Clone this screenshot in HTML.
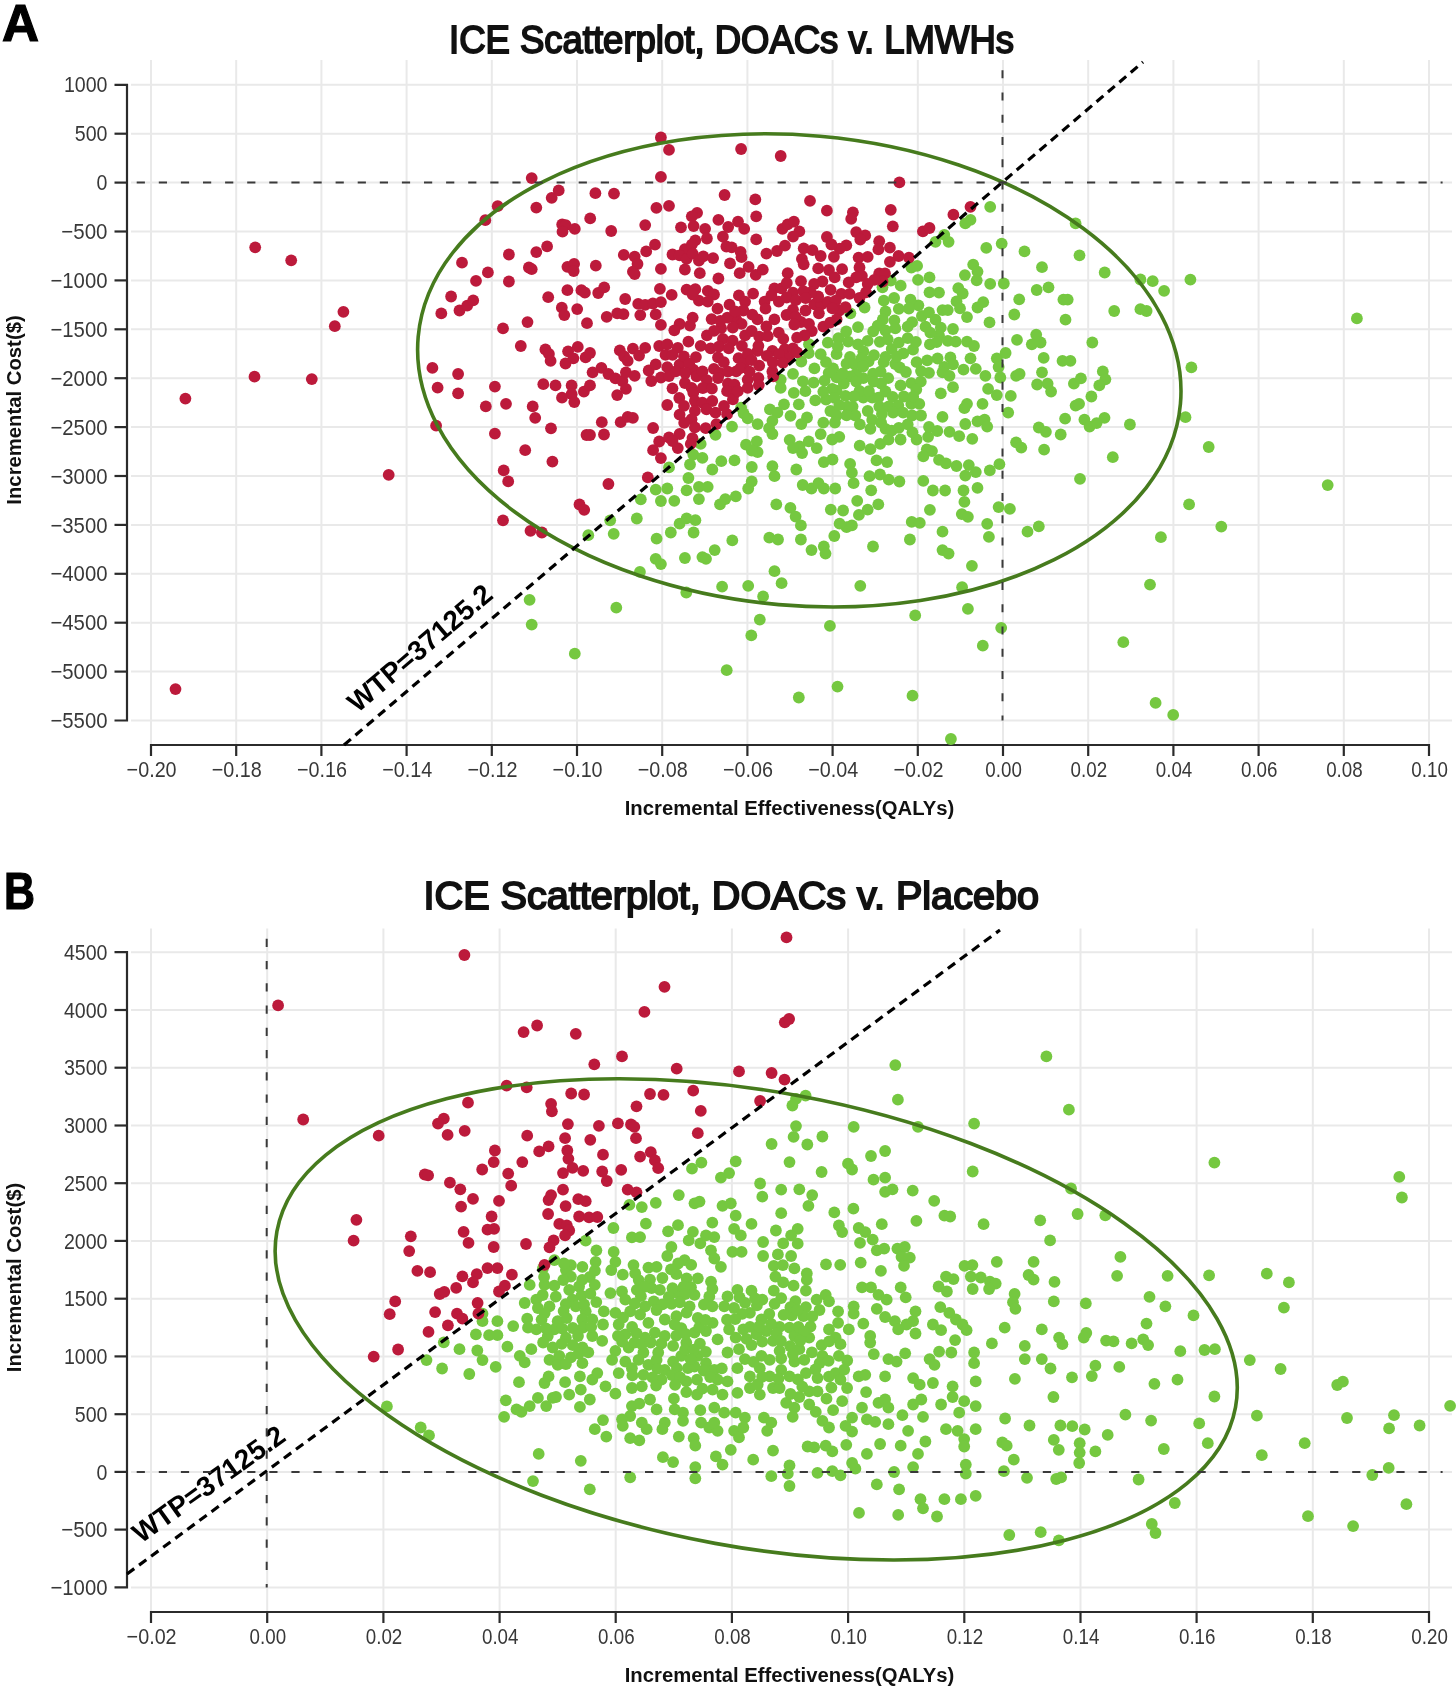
<!DOCTYPE html><html><head><meta charset="utf-8"><style>html,body{margin:0;padding:0;background:#fff}svg{display:block;filter:blur(0.5px)}</style></head><body><svg width="1456" height="1689" viewBox="0 0 1456 1689">
<style>.tk{font-family:"Liberation Sans",sans-serif;font-size:20px;fill:#383838}.ttl{font-family:"Liberation Sans",sans-serif;font-size:39px;font-weight:normal;fill:#111;stroke:#111;stroke-width:1.9px}.let{font-family:"Liberation Sans",sans-serif;font-size:52px;font-weight:bold;fill:#000;stroke:#000;stroke-width:1.2px}.ax{font-family:"Liberation Sans",sans-serif;font-size:20.3px;font-weight:bold;fill:#111}.wtp{font-family:"Liberation Sans",sans-serif;font-size:28px;font-weight:bold;fill:#000}</style>
<rect width="100%" height="100%" fill="#fff"/>
<line x1="151.0" y1="60" x2="151.0" y2="745" stroke="#e9e9e9" stroke-width="2"/>
<line x1="236.2" y1="60" x2="236.2" y2="745" stroke="#e9e9e9" stroke-width="2"/>
<line x1="321.4" y1="60" x2="321.4" y2="745" stroke="#e9e9e9" stroke-width="2"/>
<line x1="406.6" y1="60" x2="406.6" y2="745" stroke="#e9e9e9" stroke-width="2"/>
<line x1="491.8" y1="60" x2="491.8" y2="745" stroke="#e9e9e9" stroke-width="2"/>
<line x1="577.0" y1="60" x2="577.0" y2="745" stroke="#e9e9e9" stroke-width="2"/>
<line x1="662.2" y1="60" x2="662.2" y2="745" stroke="#e9e9e9" stroke-width="2"/>
<line x1="747.4" y1="60" x2="747.4" y2="745" stroke="#e9e9e9" stroke-width="2"/>
<line x1="832.6" y1="60" x2="832.6" y2="745" stroke="#e9e9e9" stroke-width="2"/>
<line x1="917.8" y1="60" x2="917.8" y2="745" stroke="#e9e9e9" stroke-width="2"/>
<line x1="1003.0" y1="60" x2="1003.0" y2="745" stroke="#e9e9e9" stroke-width="2"/>
<line x1="1088.2" y1="60" x2="1088.2" y2="745" stroke="#e9e9e9" stroke-width="2"/>
<line x1="1173.4" y1="60" x2="1173.4" y2="745" stroke="#e9e9e9" stroke-width="2"/>
<line x1="1258.6" y1="60" x2="1258.6" y2="745" stroke="#e9e9e9" stroke-width="2"/>
<line x1="1343.8" y1="60" x2="1343.8" y2="745" stroke="#e9e9e9" stroke-width="2"/>
<line x1="1429.0" y1="60" x2="1429.0" y2="745" stroke="#e9e9e9" stroke-width="2"/>
<line x1="131" y1="84.8" x2="1452" y2="84.8" stroke="#e9e9e9" stroke-width="2"/>
<line x1="131" y1="133.7" x2="1452" y2="133.7" stroke="#e9e9e9" stroke-width="2"/>
<line x1="131" y1="182.6" x2="1452" y2="182.6" stroke="#e9e9e9" stroke-width="2"/>
<line x1="131" y1="231.5" x2="1452" y2="231.5" stroke="#e9e9e9" stroke-width="2"/>
<line x1="131" y1="280.4" x2="1452" y2="280.4" stroke="#e9e9e9" stroke-width="2"/>
<line x1="131" y1="329.3" x2="1452" y2="329.3" stroke="#e9e9e9" stroke-width="2"/>
<line x1="131" y1="378.2" x2="1452" y2="378.2" stroke="#e9e9e9" stroke-width="2"/>
<line x1="131" y1="427.1" x2="1452" y2="427.1" stroke="#e9e9e9" stroke-width="2"/>
<line x1="131" y1="476.0" x2="1452" y2="476.0" stroke="#e9e9e9" stroke-width="2"/>
<line x1="131" y1="524.9" x2="1452" y2="524.9" stroke="#e9e9e9" stroke-width="2"/>
<line x1="131" y1="573.8" x2="1452" y2="573.8" stroke="#e9e9e9" stroke-width="2"/>
<line x1="131" y1="622.7" x2="1452" y2="622.7" stroke="#e9e9e9" stroke-width="2"/>
<line x1="131" y1="671.6" x2="1452" y2="671.6" stroke="#e9e9e9" stroke-width="2"/>
<line x1="131" y1="720.5" x2="1452" y2="720.5" stroke="#e9e9e9" stroke-width="2"/>
<path d="M114.5,84.8H127V720.5H114.5" fill="none" stroke="#2b2b2b" stroke-width="2.2"/>
<line x1="114.5" y1="133.7" x2="127" y2="133.7" stroke="#2b2b2b" stroke-width="2.2"/>
<line x1="114.5" y1="182.6" x2="127" y2="182.6" stroke="#2b2b2b" stroke-width="2.2"/>
<line x1="114.5" y1="231.5" x2="127" y2="231.5" stroke="#2b2b2b" stroke-width="2.2"/>
<line x1="114.5" y1="280.4" x2="127" y2="280.4" stroke="#2b2b2b" stroke-width="2.2"/>
<line x1="114.5" y1="329.3" x2="127" y2="329.3" stroke="#2b2b2b" stroke-width="2.2"/>
<line x1="114.5" y1="378.2" x2="127" y2="378.2" stroke="#2b2b2b" stroke-width="2.2"/>
<line x1="114.5" y1="427.1" x2="127" y2="427.1" stroke="#2b2b2b" stroke-width="2.2"/>
<line x1="114.5" y1="476.0" x2="127" y2="476.0" stroke="#2b2b2b" stroke-width="2.2"/>
<line x1="114.5" y1="524.9" x2="127" y2="524.9" stroke="#2b2b2b" stroke-width="2.2"/>
<line x1="114.5" y1="573.8" x2="127" y2="573.8" stroke="#2b2b2b" stroke-width="2.2"/>
<line x1="114.5" y1="622.7" x2="127" y2="622.7" stroke="#2b2b2b" stroke-width="2.2"/>
<line x1="114.5" y1="671.6" x2="127" y2="671.6" stroke="#2b2b2b" stroke-width="2.2"/>
<path d="M151.0,756V745H1429.0V756" fill="none" stroke="#2b2b2b" stroke-width="2.2"/>
<line x1="236.2" y1="745" x2="236.2" y2="756" stroke="#2b2b2b" stroke-width="2.2"/>
<line x1="321.4" y1="745" x2="321.4" y2="756" stroke="#2b2b2b" stroke-width="2.2"/>
<line x1="406.6" y1="745" x2="406.6" y2="756" stroke="#2b2b2b" stroke-width="2.2"/>
<line x1="491.8" y1="745" x2="491.8" y2="756" stroke="#2b2b2b" stroke-width="2.2"/>
<line x1="577.0" y1="745" x2="577.0" y2="756" stroke="#2b2b2b" stroke-width="2.2"/>
<line x1="662.2" y1="745" x2="662.2" y2="756" stroke="#2b2b2b" stroke-width="2.2"/>
<line x1="747.4" y1="745" x2="747.4" y2="756" stroke="#2b2b2b" stroke-width="2.2"/>
<line x1="832.6" y1="745" x2="832.6" y2="756" stroke="#2b2b2b" stroke-width="2.2"/>
<line x1="917.8" y1="745" x2="917.8" y2="756" stroke="#2b2b2b" stroke-width="2.2"/>
<line x1="1003.0" y1="745" x2="1003.0" y2="756" stroke="#2b2b2b" stroke-width="2.2"/>
<line x1="1088.2" y1="745" x2="1088.2" y2="756" stroke="#2b2b2b" stroke-width="2.2"/>
<line x1="1173.4" y1="745" x2="1173.4" y2="756" stroke="#2b2b2b" stroke-width="2.2"/>
<line x1="1258.6" y1="745" x2="1258.6" y2="756" stroke="#2b2b2b" stroke-width="2.2"/>
<line x1="1343.8" y1="745" x2="1343.8" y2="756" stroke="#2b2b2b" stroke-width="2.2"/>
<text transform="translate(107.5,92.4) scale(1,1.1)" text-anchor="end" class="tk" textLength="43.6" lengthAdjust="spacingAndGlyphs">1000</text>
<text transform="translate(107.5,141.3) scale(1,1.1)" text-anchor="end" class="tk" textLength="32.7" lengthAdjust="spacingAndGlyphs">500</text>
<text transform="translate(107.5,190.2) scale(1,1.1)" text-anchor="end" class="tk" textLength="10.9" lengthAdjust="spacingAndGlyphs">0</text>
<text transform="translate(107.5,239.1) scale(1,1.1)" text-anchor="end" class="tk" textLength="46.2" lengthAdjust="spacingAndGlyphs">−500</text>
<text transform="translate(107.5,288.0) scale(1,1.1)" text-anchor="end" class="tk" textLength="57.1" lengthAdjust="spacingAndGlyphs">−1000</text>
<text transform="translate(107.5,336.9) scale(1,1.1)" text-anchor="end" class="tk" textLength="57.1" lengthAdjust="spacingAndGlyphs">−1500</text>
<text transform="translate(107.5,385.8) scale(1,1.1)" text-anchor="end" class="tk" textLength="57.1" lengthAdjust="spacingAndGlyphs">−2000</text>
<text transform="translate(107.5,434.7) scale(1,1.1)" text-anchor="end" class="tk" textLength="57.1" lengthAdjust="spacingAndGlyphs">−2500</text>
<text transform="translate(107.5,483.6) scale(1,1.1)" text-anchor="end" class="tk" textLength="57.1" lengthAdjust="spacingAndGlyphs">−3000</text>
<text transform="translate(107.5,532.5) scale(1,1.1)" text-anchor="end" class="tk" textLength="57.1" lengthAdjust="spacingAndGlyphs">−3500</text>
<text transform="translate(107.5,581.4) scale(1,1.1)" text-anchor="end" class="tk" textLength="57.1" lengthAdjust="spacingAndGlyphs">−4000</text>
<text transform="translate(107.5,630.3) scale(1,1.1)" text-anchor="end" class="tk" textLength="57.1" lengthAdjust="spacingAndGlyphs">−4500</text>
<text transform="translate(107.5,679.2) scale(1,1.1)" text-anchor="end" class="tk" textLength="57.1" lengthAdjust="spacingAndGlyphs">−5000</text>
<text transform="translate(107.5,728.1) scale(1,1.1)" text-anchor="end" class="tk" textLength="57.1" lengthAdjust="spacingAndGlyphs">−5500</text>
<text transform="translate(151.6,776.5) scale(1,1.1)" text-anchor="middle" class="tk" textLength="50.0" lengthAdjust="spacingAndGlyphs">−0.20</text>
<text transform="translate(236.8,776.5) scale(1,1.1)" text-anchor="middle" class="tk" textLength="50.0" lengthAdjust="spacingAndGlyphs">−0.18</text>
<text transform="translate(322.0,776.5) scale(1,1.1)" text-anchor="middle" class="tk" textLength="50.0" lengthAdjust="spacingAndGlyphs">−0.16</text>
<text transform="translate(407.2,776.5) scale(1,1.1)" text-anchor="middle" class="tk" textLength="50.0" lengthAdjust="spacingAndGlyphs">−0.14</text>
<text transform="translate(492.4,776.5) scale(1,1.1)" text-anchor="middle" class="tk" textLength="50.0" lengthAdjust="spacingAndGlyphs">−0.12</text>
<text transform="translate(577.6,776.5) scale(1,1.1)" text-anchor="middle" class="tk" textLength="50.0" lengthAdjust="spacingAndGlyphs">−0.10</text>
<text transform="translate(662.8,776.5) scale(1,1.1)" text-anchor="middle" class="tk" textLength="50.0" lengthAdjust="spacingAndGlyphs">−0.08</text>
<text transform="translate(748.0,776.5) scale(1,1.1)" text-anchor="middle" class="tk" textLength="50.0" lengthAdjust="spacingAndGlyphs">−0.06</text>
<text transform="translate(833.2,776.5) scale(1,1.1)" text-anchor="middle" class="tk" textLength="50.0" lengthAdjust="spacingAndGlyphs">−0.04</text>
<text transform="translate(918.4,776.5) scale(1,1.1)" text-anchor="middle" class="tk" textLength="50.0" lengthAdjust="spacingAndGlyphs">−0.02</text>
<text transform="translate(1003.6,776.5) scale(1,1.1)" text-anchor="middle" class="tk" textLength="36.5" lengthAdjust="spacingAndGlyphs">0.00</text>
<text transform="translate(1088.8,776.5) scale(1,1.1)" text-anchor="middle" class="tk" textLength="36.5" lengthAdjust="spacingAndGlyphs">0.02</text>
<text transform="translate(1174.0,776.5) scale(1,1.1)" text-anchor="middle" class="tk" textLength="36.5" lengthAdjust="spacingAndGlyphs">0.04</text>
<text transform="translate(1259.2,776.5) scale(1,1.1)" text-anchor="middle" class="tk" textLength="36.5" lengthAdjust="spacingAndGlyphs">0.06</text>
<text transform="translate(1344.4,776.5) scale(1,1.1)" text-anchor="middle" class="tk" textLength="36.5" lengthAdjust="spacingAndGlyphs">0.08</text>
<text transform="translate(1429.6,776.5) scale(1,1.1)" text-anchor="middle" class="tk" textLength="36.5" lengthAdjust="spacingAndGlyphs">0.10</text>
<text x="449" y="53" class="ttl" textLength="565" lengthAdjust="spacingAndGlyphs">ICE Scatterplot, DOACs v. LMWHs</text>
<text x="2" y="41.3" class="let" textLength="37" lengthAdjust="spacingAndGlyphs">A</text>
<text x="789.5" y="815" text-anchor="middle" class="ax">Incremental Effectiveness(QALYs)</text>
<text transform="translate(20.8,410) rotate(-90)" text-anchor="middle" class="ax">Incremental Cost($)</text>
<line x1="151.0" y1="928.6" x2="151.0" y2="1612" stroke="#e9e9e9" stroke-width="2"/>
<line x1="267.2" y1="928.6" x2="267.2" y2="1612" stroke="#e9e9e9" stroke-width="2"/>
<line x1="383.4" y1="928.6" x2="383.4" y2="1612" stroke="#e9e9e9" stroke-width="2"/>
<line x1="499.6" y1="928.6" x2="499.6" y2="1612" stroke="#e9e9e9" stroke-width="2"/>
<line x1="615.7" y1="928.6" x2="615.7" y2="1612" stroke="#e9e9e9" stroke-width="2"/>
<line x1="731.9" y1="928.6" x2="731.9" y2="1612" stroke="#e9e9e9" stroke-width="2"/>
<line x1="848.1" y1="928.6" x2="848.1" y2="1612" stroke="#e9e9e9" stroke-width="2"/>
<line x1="964.3" y1="928.6" x2="964.3" y2="1612" stroke="#e9e9e9" stroke-width="2"/>
<line x1="1080.5" y1="928.6" x2="1080.5" y2="1612" stroke="#e9e9e9" stroke-width="2"/>
<line x1="1196.6" y1="928.6" x2="1196.6" y2="1612" stroke="#e9e9e9" stroke-width="2"/>
<line x1="1312.8" y1="928.6" x2="1312.8" y2="1612" stroke="#e9e9e9" stroke-width="2"/>
<line x1="1429.0" y1="928.6" x2="1429.0" y2="1612" stroke="#e9e9e9" stroke-width="2"/>
<line x1="131" y1="952.2" x2="1452" y2="952.2" stroke="#e9e9e9" stroke-width="2"/>
<line x1="131" y1="1010.0" x2="1452" y2="1010.0" stroke="#e9e9e9" stroke-width="2"/>
<line x1="131" y1="1067.7" x2="1452" y2="1067.7" stroke="#e9e9e9" stroke-width="2"/>
<line x1="131" y1="1125.5" x2="1452" y2="1125.5" stroke="#e9e9e9" stroke-width="2"/>
<line x1="131" y1="1183.2" x2="1452" y2="1183.2" stroke="#e9e9e9" stroke-width="2"/>
<line x1="131" y1="1240.9" x2="1452" y2="1240.9" stroke="#e9e9e9" stroke-width="2"/>
<line x1="131" y1="1298.7" x2="1452" y2="1298.7" stroke="#e9e9e9" stroke-width="2"/>
<line x1="131" y1="1356.4" x2="1452" y2="1356.4" stroke="#e9e9e9" stroke-width="2"/>
<line x1="131" y1="1414.2" x2="1452" y2="1414.2" stroke="#e9e9e9" stroke-width="2"/>
<line x1="131" y1="1471.9" x2="1452" y2="1471.9" stroke="#e9e9e9" stroke-width="2"/>
<line x1="131" y1="1529.6" x2="1452" y2="1529.6" stroke="#e9e9e9" stroke-width="2"/>
<line x1="131" y1="1587.4" x2="1452" y2="1587.4" stroke="#e9e9e9" stroke-width="2"/>
<path d="M114.5,952.2H127V1587.4H114.5" fill="none" stroke="#2b2b2b" stroke-width="2.2"/>
<line x1="114.5" y1="1010.0" x2="127" y2="1010.0" stroke="#2b2b2b" stroke-width="2.2"/>
<line x1="114.5" y1="1067.7" x2="127" y2="1067.7" stroke="#2b2b2b" stroke-width="2.2"/>
<line x1="114.5" y1="1125.5" x2="127" y2="1125.5" stroke="#2b2b2b" stroke-width="2.2"/>
<line x1="114.5" y1="1183.2" x2="127" y2="1183.2" stroke="#2b2b2b" stroke-width="2.2"/>
<line x1="114.5" y1="1240.9" x2="127" y2="1240.9" stroke="#2b2b2b" stroke-width="2.2"/>
<line x1="114.5" y1="1298.7" x2="127" y2="1298.7" stroke="#2b2b2b" stroke-width="2.2"/>
<line x1="114.5" y1="1356.4" x2="127" y2="1356.4" stroke="#2b2b2b" stroke-width="2.2"/>
<line x1="114.5" y1="1414.2" x2="127" y2="1414.2" stroke="#2b2b2b" stroke-width="2.2"/>
<line x1="114.5" y1="1471.9" x2="127" y2="1471.9" stroke="#2b2b2b" stroke-width="2.2"/>
<line x1="114.5" y1="1529.6" x2="127" y2="1529.6" stroke="#2b2b2b" stroke-width="2.2"/>
<path d="M151.0,1623V1612H1429.0V1623" fill="none" stroke="#2b2b2b" stroke-width="2.2"/>
<line x1="267.2" y1="1612" x2="267.2" y2="1623" stroke="#2b2b2b" stroke-width="2.2"/>
<line x1="383.4" y1="1612" x2="383.4" y2="1623" stroke="#2b2b2b" stroke-width="2.2"/>
<line x1="499.6" y1="1612" x2="499.6" y2="1623" stroke="#2b2b2b" stroke-width="2.2"/>
<line x1="615.7" y1="1612" x2="615.7" y2="1623" stroke="#2b2b2b" stroke-width="2.2"/>
<line x1="731.9" y1="1612" x2="731.9" y2="1623" stroke="#2b2b2b" stroke-width="2.2"/>
<line x1="848.1" y1="1612" x2="848.1" y2="1623" stroke="#2b2b2b" stroke-width="2.2"/>
<line x1="964.3" y1="1612" x2="964.3" y2="1623" stroke="#2b2b2b" stroke-width="2.2"/>
<line x1="1080.5" y1="1612" x2="1080.5" y2="1623" stroke="#2b2b2b" stroke-width="2.2"/>
<line x1="1196.6" y1="1612" x2="1196.6" y2="1623" stroke="#2b2b2b" stroke-width="2.2"/>
<line x1="1312.8" y1="1612" x2="1312.8" y2="1623" stroke="#2b2b2b" stroke-width="2.2"/>
<text transform="translate(107.5,959.8) scale(1,1.1)" text-anchor="end" class="tk" textLength="43.6" lengthAdjust="spacingAndGlyphs">4500</text>
<text transform="translate(107.5,1017.6) scale(1,1.1)" text-anchor="end" class="tk" textLength="43.6" lengthAdjust="spacingAndGlyphs">4000</text>
<text transform="translate(107.5,1075.3) scale(1,1.1)" text-anchor="end" class="tk" textLength="43.6" lengthAdjust="spacingAndGlyphs">3500</text>
<text transform="translate(107.5,1133.1) scale(1,1.1)" text-anchor="end" class="tk" textLength="43.6" lengthAdjust="spacingAndGlyphs">3000</text>
<text transform="translate(107.5,1190.8) scale(1,1.1)" text-anchor="end" class="tk" textLength="43.6" lengthAdjust="spacingAndGlyphs">2500</text>
<text transform="translate(107.5,1248.5) scale(1,1.1)" text-anchor="end" class="tk" textLength="43.6" lengthAdjust="spacingAndGlyphs">2000</text>
<text transform="translate(107.5,1306.3) scale(1,1.1)" text-anchor="end" class="tk" textLength="43.6" lengthAdjust="spacingAndGlyphs">1500</text>
<text transform="translate(107.5,1364.0) scale(1,1.1)" text-anchor="end" class="tk" textLength="43.6" lengthAdjust="spacingAndGlyphs">1000</text>
<text transform="translate(107.5,1421.8) scale(1,1.1)" text-anchor="end" class="tk" textLength="32.7" lengthAdjust="spacingAndGlyphs">500</text>
<text transform="translate(107.5,1479.5) scale(1,1.1)" text-anchor="end" class="tk" textLength="10.9" lengthAdjust="spacingAndGlyphs">0</text>
<text transform="translate(107.5,1537.2) scale(1,1.1)" text-anchor="end" class="tk" textLength="46.2" lengthAdjust="spacingAndGlyphs">−500</text>
<text transform="translate(107.5,1595.0) scale(1,1.1)" text-anchor="end" class="tk" textLength="57.1" lengthAdjust="spacingAndGlyphs">−1000</text>
<text transform="translate(151.6,1643.5) scale(1,1.1)" text-anchor="middle" class="tk" textLength="50.0" lengthAdjust="spacingAndGlyphs">−0.02</text>
<text transform="translate(267.8,1643.5) scale(1,1.1)" text-anchor="middle" class="tk" textLength="36.5" lengthAdjust="spacingAndGlyphs">0.00</text>
<text transform="translate(384.0,1643.5) scale(1,1.1)" text-anchor="middle" class="tk" textLength="36.5" lengthAdjust="spacingAndGlyphs">0.02</text>
<text transform="translate(500.2,1643.5) scale(1,1.1)" text-anchor="middle" class="tk" textLength="36.5" lengthAdjust="spacingAndGlyphs">0.04</text>
<text transform="translate(616.3,1643.5) scale(1,1.1)" text-anchor="middle" class="tk" textLength="36.5" lengthAdjust="spacingAndGlyphs">0.06</text>
<text transform="translate(732.5,1643.5) scale(1,1.1)" text-anchor="middle" class="tk" textLength="36.5" lengthAdjust="spacingAndGlyphs">0.08</text>
<text transform="translate(848.7,1643.5) scale(1,1.1)" text-anchor="middle" class="tk" textLength="36.5" lengthAdjust="spacingAndGlyphs">0.10</text>
<text transform="translate(964.9,1643.5) scale(1,1.1)" text-anchor="middle" class="tk" textLength="36.5" lengthAdjust="spacingAndGlyphs">0.12</text>
<text transform="translate(1081.1,1643.5) scale(1,1.1)" text-anchor="middle" class="tk" textLength="36.5" lengthAdjust="spacingAndGlyphs">0.14</text>
<text transform="translate(1197.2,1643.5) scale(1,1.1)" text-anchor="middle" class="tk" textLength="36.5" lengthAdjust="spacingAndGlyphs">0.16</text>
<text transform="translate(1313.4,1643.5) scale(1,1.1)" text-anchor="middle" class="tk" textLength="36.5" lengthAdjust="spacingAndGlyphs">0.18</text>
<text transform="translate(1429.6,1643.5) scale(1,1.1)" text-anchor="middle" class="tk" textLength="36.5" lengthAdjust="spacingAndGlyphs">0.20</text>
<text x="423.6" y="908.5" class="ttl" textLength="615.4" lengthAdjust="spacingAndGlyphs">ICE Scatterplot, DOACs v. Placebo</text>
<text x="4" y="909" class="let" textLength="31" lengthAdjust="spacingAndGlyphs">B</text>
<text x="789.5" y="1682" text-anchor="middle" class="ax">Incremental Effectiveness(QALYs)</text>
<text transform="translate(20.8,1277.5) rotate(-90)" text-anchor="middle" class="ax">Incremental Cost($)</text>
<g fill="#75c840">
<circle cx="990.2" cy="206.8" r="5.9"/>
<circle cx="965.3" cy="223.4" r="5.9"/>
<circle cx="970.5" cy="219.9" r="5.9"/>
<circle cx="944.3" cy="234.8" r="5.9"/>
<circle cx="948.6" cy="241.8" r="5.9"/>
<circle cx="935.5" cy="241.8" r="5.9"/>
<circle cx="986.3" cy="247.9" r="5.9"/>
<circle cx="1001.7" cy="243.6" r="5.9"/>
<circle cx="1024.5" cy="251.4" r="5.9"/>
<circle cx="1075.6" cy="223.4" r="5.9"/>
<circle cx="1079.5" cy="255.3" r="5.9"/>
<circle cx="1042.0" cy="267.2" r="5.9"/>
<circle cx="1104.7" cy="272.5" r="5.9"/>
<circle cx="964.9" cy="275.1" r="5.9"/>
<circle cx="973.2" cy="264.6" r="5.9"/>
<circle cx="977.5" cy="271.6" r="5.9"/>
<circle cx="976.7" cy="280.3" r="5.9"/>
<circle cx="990.2" cy="283.8" r="5.9"/>
<circle cx="1003.8" cy="283.5" r="5.9"/>
<circle cx="939.0" cy="292.6" r="5.9"/>
<circle cx="958.3" cy="288.2" r="5.9"/>
<circle cx="962.7" cy="293.5" r="5.9"/>
<circle cx="956.5" cy="301.4" r="5.9"/>
<circle cx="960.0" cy="308.4" r="5.9"/>
<circle cx="977.5" cy="307.5" r="5.9"/>
<circle cx="983.2" cy="302.2" r="5.9"/>
<circle cx="942.5" cy="310.1" r="5.9"/>
<circle cx="947.8" cy="310.1" r="5.9"/>
<circle cx="967.0" cy="317.1" r="5.9"/>
<circle cx="989.5" cy="322.4" r="5.9"/>
<circle cx="1014.3" cy="314.5" r="5.9"/>
<circle cx="1019.2" cy="299.3" r="5.9"/>
<circle cx="1036.7" cy="290.0" r="5.9"/>
<circle cx="1048.5" cy="287.3" r="5.9"/>
<circle cx="1063.4" cy="299.6" r="5.9"/>
<circle cx="1067.7" cy="299.6" r="5.9"/>
<circle cx="1065.5" cy="319.7" r="5.9"/>
<circle cx="1114.2" cy="311.0" r="5.9"/>
<circle cx="1140.4" cy="279.5" r="5.9"/>
<circle cx="1152.7" cy="281.2" r="5.9"/>
<circle cx="1164.1" cy="290.8" r="5.9"/>
<circle cx="1140.4" cy="309.2" r="5.9"/>
<circle cx="1146.6" cy="311.0" r="5.9"/>
<circle cx="935.5" cy="319.7" r="5.9"/>
<circle cx="940.8" cy="327.6" r="5.9"/>
<circle cx="953.0" cy="329.0" r="5.9"/>
<circle cx="1190.4" cy="279.6" r="5.9"/>
<circle cx="1356.9" cy="318.4" r="5.9"/>
<circle cx="1191.4" cy="367.4" r="5.9"/>
<circle cx="1185.5" cy="417.2" r="5.9"/>
<circle cx="1208.7" cy="447.0" r="5.9"/>
<circle cx="1327.7" cy="485.1" r="5.9"/>
<circle cx="1189.1" cy="504.3" r="5.9"/>
<circle cx="1221.3" cy="526.6" r="5.9"/>
<circle cx="1160.9" cy="537.2" r="5.9"/>
<circle cx="1150.0" cy="584.6" r="5.9"/>
<circle cx="1155.6" cy="702.9" r="5.9"/>
<circle cx="1173.2" cy="714.9" r="5.9"/>
<circle cx="655.7" cy="489.6" r="5.9"/>
<circle cx="640.8" cy="499.3" r="5.9"/>
<circle cx="660.9" cy="501.0" r="5.9"/>
<circle cx="610.2" cy="520.3" r="5.9"/>
<circle cx="636.8" cy="518.5" r="5.9"/>
<circle cx="588.3" cy="535.2" r="5.9"/>
<circle cx="613.7" cy="533.8" r="5.9"/>
<circle cx="656.6" cy="538.7" r="5.9"/>
<circle cx="655.7" cy="558.8" r="5.9"/>
<circle cx="660.9" cy="564.1" r="5.9"/>
<circle cx="639.9" cy="571.9" r="5.9"/>
<circle cx="669.0" cy="467.4" r="5.9"/>
<circle cx="774.5" cy="476.2" r="5.9"/>
<circle cx="816.7" cy="448.1" r="5.9"/>
<circle cx="823.8" cy="462.1" r="5.9"/>
<circle cx="832.5" cy="459.5" r="5.9"/>
<circle cx="850.1" cy="463.9" r="5.9"/>
<circle cx="851.9" cy="472.7" r="5.9"/>
<circle cx="853.6" cy="483.2" r="5.9"/>
<circle cx="876.5" cy="460.4" r="5.9"/>
<circle cx="887.1" cy="462.1" r="5.9"/>
<circle cx="869.5" cy="476.2" r="5.9"/>
<circle cx="880.0" cy="474.5" r="5.9"/>
<circle cx="888.8" cy="479.7" r="5.9"/>
<circle cx="899.4" cy="481.5" r="5.9"/>
<circle cx="802.7" cy="485.0" r="5.9"/>
<circle cx="811.5" cy="488.5" r="5.9"/>
<circle cx="818.5" cy="483.2" r="5.9"/>
<circle cx="823.8" cy="488.5" r="5.9"/>
<circle cx="835.2" cy="488.5" r="5.9"/>
<circle cx="667.3" cy="488.5" r="5.9"/>
<circle cx="688.4" cy="478.0" r="5.9"/>
<circle cx="686.6" cy="490.3" r="5.9"/>
<circle cx="698.9" cy="486.8" r="5.9"/>
<circle cx="707.7" cy="486.8" r="5.9"/>
<circle cx="674.3" cy="500.8" r="5.9"/>
<circle cx="698.9" cy="499.1" r="5.9"/>
<circle cx="720.0" cy="504.3" r="5.9"/>
<circle cx="725.3" cy="499.1" r="5.9"/>
<circle cx="735.8" cy="496.4" r="5.9"/>
<circle cx="748.2" cy="488.5" r="5.9"/>
<circle cx="751.7" cy="481.5" r="5.9"/>
<circle cx="776.3" cy="504.3" r="5.9"/>
<circle cx="790.4" cy="507.9" r="5.9"/>
<circle cx="795.6" cy="516.6" r="5.9"/>
<circle cx="800.9" cy="525.4" r="5.9"/>
<circle cx="800.9" cy="539.5" r="5.9"/>
<circle cx="769.3" cy="537.7" r="5.9"/>
<circle cx="778.0" cy="539.5" r="5.9"/>
<circle cx="871.2" cy="490.3" r="5.9"/>
<circle cx="878.3" cy="504.3" r="5.9"/>
<circle cx="858.9" cy="514.9" r="5.9"/>
<circle cx="857.2" cy="500.8" r="5.9"/>
<circle cx="867.7" cy="509.6" r="5.9"/>
<circle cx="830.8" cy="509.6" r="5.9"/>
<circle cx="843.1" cy="510.5" r="5.9"/>
<circle cx="846.6" cy="527.2" r="5.9"/>
<circle cx="851.9" cy="525.4" r="5.9"/>
<circle cx="839.6" cy="523.7" r="5.9"/>
<circle cx="834.3" cy="536.0" r="5.9"/>
<circle cx="873.0" cy="546.5" r="5.9"/>
<circle cx="911.7" cy="521.9" r="5.9"/>
<circle cx="909.9" cy="539.5" r="5.9"/>
<circle cx="679.6" cy="523.7" r="5.9"/>
<circle cx="686.6" cy="518.4" r="5.9"/>
<circle cx="695.4" cy="520.2" r="5.9"/>
<circle cx="670.8" cy="532.5" r="5.9"/>
<circle cx="693.6" cy="532.5" r="5.9"/>
<circle cx="732.3" cy="540.4" r="5.9"/>
<circle cx="684.9" cy="558.0" r="5.9"/>
<circle cx="702.4" cy="557.1" r="5.9"/>
<circle cx="714.7" cy="550.1" r="5.9"/>
<circle cx="706.0" cy="558.8" r="5.9"/>
<circle cx="811.5" cy="550.1" r="5.9"/>
<circle cx="823.8" cy="546.5" r="5.9"/>
<circle cx="825.5" cy="553.6" r="5.9"/>
<circle cx="774.5" cy="571.2" r="5.9"/>
<circle cx="939.0" cy="335.5" r="5.9"/>
<circle cx="947.8" cy="340.8" r="5.9"/>
<circle cx="967.0" cy="341.6" r="5.9"/>
<circle cx="974.0" cy="346.0" r="5.9"/>
<circle cx="950.4" cy="357.4" r="5.9"/>
<circle cx="953.0" cy="364.4" r="5.9"/>
<circle cx="944.3" cy="367.0" r="5.9"/>
<circle cx="942.5" cy="372.3" r="5.9"/>
<circle cx="949.5" cy="375.8" r="5.9"/>
<circle cx="963.5" cy="369.7" r="5.9"/>
<circle cx="970.5" cy="358.3" r="5.9"/>
<circle cx="975.8" cy="368.8" r="5.9"/>
<circle cx="985.4" cy="375.8" r="5.9"/>
<circle cx="996.8" cy="358.3" r="5.9"/>
<circle cx="998.6" cy="367.0" r="5.9"/>
<circle cx="1000.3" cy="377.5" r="5.9"/>
<circle cx="1005.6" cy="353.0" r="5.9"/>
<circle cx="953.0" cy="387.2" r="5.9"/>
<circle cx="940.8" cy="393.3" r="5.9"/>
<circle cx="988.1" cy="388.9" r="5.9"/>
<circle cx="996.8" cy="395.1" r="5.9"/>
<circle cx="1017.0" cy="339.9" r="5.9"/>
<circle cx="1036.2" cy="334.6" r="5.9"/>
<circle cx="1031.8" cy="344.3" r="5.9"/>
<circle cx="1040.6" cy="342.5" r="5.9"/>
<circle cx="1092.3" cy="342.5" r="5.9"/>
<circle cx="1043.7" cy="357.9" r="5.9"/>
<circle cx="1062.5" cy="360.9" r="5.9"/>
<circle cx="1070.4" cy="360.9" r="5.9"/>
<circle cx="1042.0" cy="372.3" r="5.9"/>
<circle cx="1016.1" cy="375.8" r="5.9"/>
<circle cx="1019.6" cy="374.0" r="5.9"/>
<circle cx="1037.1" cy="384.5" r="5.9"/>
<circle cx="1047.6" cy="383.7" r="5.9"/>
<circle cx="1051.1" cy="391.6" r="5.9"/>
<circle cx="1073.9" cy="383.7" r="5.9"/>
<circle cx="1080.9" cy="378.4" r="5.9"/>
<circle cx="1102.8" cy="371.4" r="5.9"/>
<circle cx="1105.4" cy="379.3" r="5.9"/>
<circle cx="1099.3" cy="385.4" r="5.9"/>
<circle cx="1091.4" cy="396.5" r="5.9"/>
<circle cx="1010.8" cy="395.9" r="5.9"/>
<circle cx="1008.2" cy="412.6" r="5.9"/>
<circle cx="967.0" cy="403.8" r="5.9"/>
<circle cx="964.4" cy="408.2" r="5.9"/>
<circle cx="982.5" cy="403.8" r="5.9"/>
<circle cx="942.5" cy="416.9" r="5.9"/>
<circle cx="965.3" cy="424.0" r="5.9"/>
<circle cx="977.5" cy="421.3" r="5.9"/>
<circle cx="984.6" cy="419.6" r="5.9"/>
<circle cx="987.2" cy="426.6" r="5.9"/>
<circle cx="937.3" cy="431.0" r="5.9"/>
<circle cx="949.5" cy="431.8" r="5.9"/>
<circle cx="959.2" cy="436.2" r="5.9"/>
<circle cx="972.3" cy="438.8" r="5.9"/>
<circle cx="926.8" cy="449.3" r="5.9"/>
<circle cx="932.0" cy="451.1" r="5.9"/>
<circle cx="923.3" cy="456.4" r="5.9"/>
<circle cx="939.0" cy="459.9" r="5.9"/>
<circle cx="946.0" cy="463.4" r="5.9"/>
<circle cx="956.5" cy="466.0" r="5.9"/>
<circle cx="968.8" cy="465.1" r="5.9"/>
<circle cx="975.8" cy="472.1" r="5.9"/>
<circle cx="965.3" cy="475.6" r="5.9"/>
<circle cx="989.8" cy="470.4" r="5.9"/>
<circle cx="999.4" cy="464.2" r="5.9"/>
<circle cx="1075.6" cy="405.6" r="5.9"/>
<circle cx="1079.1" cy="403.8" r="5.9"/>
<circle cx="1065.1" cy="418.7" r="5.9"/>
<circle cx="1084.4" cy="419.6" r="5.9"/>
<circle cx="1089.6" cy="426.6" r="5.9"/>
<circle cx="1096.6" cy="423.1" r="5.9"/>
<circle cx="1104.5" cy="417.8" r="5.9"/>
<circle cx="1129.9" cy="424.5" r="5.9"/>
<circle cx="1038.8" cy="427.5" r="5.9"/>
<circle cx="1045.9" cy="431.8" r="5.9"/>
<circle cx="1060.7" cy="434.5" r="5.9"/>
<circle cx="1016.1" cy="442.3" r="5.9"/>
<circle cx="1021.3" cy="447.6" r="5.9"/>
<circle cx="1044.1" cy="449.7" r="5.9"/>
<circle cx="1112.8" cy="457.2" r="5.9"/>
<circle cx="923.3" cy="480.9" r="5.9"/>
<circle cx="932.9" cy="490.5" r="5.9"/>
<circle cx="945.1" cy="490.5" r="5.9"/>
<circle cx="963.5" cy="490.5" r="5.9"/>
<circle cx="977.5" cy="487.9" r="5.9"/>
<circle cx="964.4" cy="501.9" r="5.9"/>
<circle cx="929.9" cy="509.8" r="5.9"/>
<circle cx="961.8" cy="514.1" r="5.9"/>
<circle cx="967.9" cy="516.8" r="5.9"/>
<circle cx="998.6" cy="507.1" r="5.9"/>
<circle cx="1009.9" cy="508.9" r="5.9"/>
<circle cx="919.8" cy="522.9" r="5.9"/>
<circle cx="987.2" cy="523.8" r="5.9"/>
<circle cx="942.5" cy="531.7" r="5.9"/>
<circle cx="988.9" cy="536.9" r="5.9"/>
<circle cx="1027.5" cy="531.7" r="5.9"/>
<circle cx="1038.8" cy="526.4" r="5.9"/>
<circle cx="942.5" cy="550.1" r="5.9"/>
<circle cx="948.6" cy="553.6" r="5.9"/>
<circle cx="971.9" cy="565.8" r="5.9"/>
<circle cx="1080.0" cy="478.8" r="5.9"/>
<circle cx="529.6" cy="599.8" r="5.9"/>
<circle cx="531.7" cy="624.6" r="5.9"/>
<circle cx="574.8" cy="653.7" r="5.9"/>
<circle cx="616.3" cy="607.7" r="5.9"/>
<circle cx="686.3" cy="592.5" r="5.9"/>
<circle cx="722.1" cy="586.7" r="5.9"/>
<circle cx="748.2" cy="585.8" r="5.9"/>
<circle cx="763.1" cy="596.4" r="5.9"/>
<circle cx="781.6" cy="583.2" r="5.9"/>
<circle cx="860.3" cy="585.8" r="5.9"/>
<circle cx="759.8" cy="619.6" r="5.9"/>
<circle cx="751.3" cy="635.4" r="5.9"/>
<circle cx="829.9" cy="625.9" r="5.9"/>
<circle cx="726.7" cy="670.2" r="5.9"/>
<circle cx="798.8" cy="697.5" r="5.9"/>
<circle cx="837.5" cy="686.6" r="5.9"/>
<circle cx="912.5" cy="695.7" r="5.9"/>
<circle cx="915.2" cy="615.4" r="5.9"/>
<circle cx="962.1" cy="587.2" r="5.9"/>
<circle cx="967.9" cy="608.9" r="5.9"/>
<circle cx="1001.2" cy="627.8" r="5.9"/>
<circle cx="982.8" cy="645.7" r="5.9"/>
<circle cx="950.9" cy="739.0" r="5.9"/>
<circle cx="1123.3" cy="642.2" r="5.9"/>
<circle cx="895.3" cy="1065.1" r="5.9"/>
<circle cx="897.9" cy="1099.7" r="5.9"/>
<circle cx="805.6" cy="1095.6" r="5.9"/>
<circle cx="796.0" cy="1098.9" r="5.9"/>
<circle cx="792.4" cy="1105.5" r="5.9"/>
<circle cx="796.0" cy="1126.1" r="5.9"/>
<circle cx="853.7" cy="1126.9" r="5.9"/>
<circle cx="918.0" cy="1126.9" r="5.9"/>
<circle cx="974.1" cy="1123.6" r="5.9"/>
<circle cx="1046.4" cy="1056.4" r="5.9"/>
<circle cx="1068.9" cy="1109.7" r="5.9"/>
<circle cx="482.5" cy="1313.7" r="5.9"/>
<circle cx="482.5" cy="1321.2" r="5.9"/>
<circle cx="497.4" cy="1321.2" r="5.9"/>
<circle cx="475.9" cy="1334.3" r="5.9"/>
<circle cx="489.1" cy="1335.2" r="5.9"/>
<circle cx="497.4" cy="1335.2" r="5.9"/>
<circle cx="443.8" cy="1342.3" r="5.9"/>
<circle cx="459.5" cy="1349.2" r="5.9"/>
<circle cx="477.3" cy="1350.5" r="5.9"/>
<circle cx="426.5" cy="1360.1" r="5.9"/>
<circle cx="482.5" cy="1360.1" r="5.9"/>
<circle cx="692.0" cy="1168.7" r="5.9"/>
<circle cx="701.4" cy="1162.6" r="5.9"/>
<circle cx="735.7" cy="1161.3" r="5.9"/>
<circle cx="720.9" cy="1177.7" r="5.9"/>
<circle cx="729.1" cy="1173.1" r="5.9"/>
<circle cx="678.8" cy="1195.1" r="5.9"/>
<circle cx="694.5" cy="1203.3" r="5.9"/>
<circle cx="699.5" cy="1201.6" r="5.9"/>
<circle cx="722.5" cy="1205.8" r="5.9"/>
<circle cx="730.8" cy="1203.3" r="5.9"/>
<circle cx="655.8" cy="1202.8" r="5.9"/>
<circle cx="641.8" cy="1207.1" r="5.9"/>
<circle cx="629.4" cy="1204.9" r="5.9"/>
<circle cx="613.4" cy="1228.0" r="5.9"/>
<circle cx="645.9" cy="1223.6" r="5.9"/>
<circle cx="631.9" cy="1237.4" r="5.9"/>
<circle cx="640.1" cy="1237.1" r="5.9"/>
<circle cx="668.1" cy="1231.3" r="5.9"/>
<circle cx="678.0" cy="1225.2" r="5.9"/>
<circle cx="712.3" cy="1222.6" r="5.9"/>
<circle cx="735.7" cy="1215.7" r="5.9"/>
<circle cx="734.1" cy="1228.8" r="5.9"/>
<circle cx="692.9" cy="1231.8" r="5.9"/>
<circle cx="688.7" cy="1240.4" r="5.9"/>
<circle cx="700.3" cy="1243.4" r="5.9"/>
<circle cx="706.0" cy="1235.4" r="5.9"/>
<circle cx="714.3" cy="1237.1" r="5.9"/>
<circle cx="585.7" cy="1240.7" r="5.9"/>
<circle cx="596.4" cy="1250.3" r="5.9"/>
<circle cx="613.7" cy="1251.9" r="5.9"/>
<circle cx="615.4" cy="1261.8" r="5.9"/>
<circle cx="595.6" cy="1261.8" r="5.9"/>
<circle cx="570.9" cy="1265.1" r="5.9"/>
<circle cx="582.4" cy="1266.8" r="5.9"/>
<circle cx="565.9" cy="1270.1" r="5.9"/>
<circle cx="554.4" cy="1260.2" r="5.9"/>
<circle cx="542.9" cy="1268.4" r="5.9"/>
<circle cx="570.9" cy="1276.6" r="5.9"/>
<circle cx="589.8" cy="1277.0" r="5.9"/>
<circle cx="594.8" cy="1284.9" r="5.9"/>
<circle cx="611.3" cy="1270.1" r="5.9"/>
<circle cx="622.8" cy="1274.7" r="5.9"/>
<circle cx="633.5" cy="1265.1" r="5.9"/>
<circle cx="635.2" cy="1273.4" r="5.9"/>
<circle cx="648.4" cy="1267.6" r="5.9"/>
<circle cx="656.6" cy="1266.8" r="5.9"/>
<circle cx="650.0" cy="1279.6" r="5.9"/>
<circle cx="662.4" cy="1278.0" r="5.9"/>
<circle cx="671.4" cy="1247.0" r="5.9"/>
<circle cx="667.3" cy="1256.0" r="5.9"/>
<circle cx="684.6" cy="1260.2" r="5.9"/>
<circle cx="691.2" cy="1264.8" r="5.9"/>
<circle cx="676.4" cy="1274.2" r="5.9"/>
<circle cx="711.0" cy="1250.3" r="5.9"/>
<circle cx="720.9" cy="1266.8" r="5.9"/>
<circle cx="714.3" cy="1258.5" r="5.9"/>
<circle cx="697.8" cy="1278.3" r="5.9"/>
<circle cx="711.0" cy="1281.6" r="5.9"/>
<circle cx="732.4" cy="1251.9" r="5.9"/>
<circle cx="737.4" cy="1289.8" r="5.9"/>
<circle cx="529.7" cy="1284.9" r="5.9"/>
<circle cx="544.5" cy="1284.9" r="5.9"/>
<circle cx="554.4" cy="1285.7" r="5.9"/>
<circle cx="524.7" cy="1303.0" r="5.9"/>
<circle cx="536.3" cy="1299.7" r="5.9"/>
<circle cx="549.5" cy="1306.3" r="5.9"/>
<circle cx="537.9" cy="1308.0" r="5.9"/>
<circle cx="569.2" cy="1289.8" r="5.9"/>
<circle cx="579.1" cy="1286.5" r="5.9"/>
<circle cx="572.5" cy="1299.7" r="5.9"/>
<circle cx="575.8" cy="1306.3" r="5.9"/>
<circle cx="585.7" cy="1311.3" r="5.9"/>
<circle cx="610.4" cy="1293.1" r="5.9"/>
<circle cx="622.0" cy="1291.5" r="5.9"/>
<circle cx="636.8" cy="1289.8" r="5.9"/>
<circle cx="625.3" cy="1299.7" r="5.9"/>
<circle cx="615.4" cy="1312.9" r="5.9"/>
<circle cx="630.2" cy="1311.3" r="5.9"/>
<circle cx="645.1" cy="1306.3" r="5.9"/>
<circle cx="640.1" cy="1314.6" r="5.9"/>
<circle cx="651.6" cy="1288.2" r="5.9"/>
<circle cx="659.9" cy="1289.8" r="5.9"/>
<circle cx="678.0" cy="1293.1" r="5.9"/>
<circle cx="694.5" cy="1294.8" r="5.9"/>
<circle cx="709.3" cy="1296.4" r="5.9"/>
<circle cx="689.6" cy="1306.3" r="5.9"/>
<circle cx="697.8" cy="1317.9" r="5.9"/>
<circle cx="727.5" cy="1296.4" r="5.9"/>
<circle cx="734.1" cy="1308.0" r="5.9"/>
<circle cx="724.2" cy="1306.3" r="5.9"/>
<circle cx="664.8" cy="1319.5" r="5.9"/>
<circle cx="676.4" cy="1316.2" r="5.9"/>
<circle cx="674.7" cy="1324.5" r="5.9"/>
<circle cx="648.4" cy="1322.8" r="5.9"/>
<circle cx="654.9" cy="1332.7" r="5.9"/>
<circle cx="645.1" cy="1337.6" r="5.9"/>
<circle cx="664.8" cy="1336.0" r="5.9"/>
<circle cx="673.1" cy="1345.9" r="5.9"/>
<circle cx="686.3" cy="1342.6" r="5.9"/>
<circle cx="694.5" cy="1332.7" r="5.9"/>
<circle cx="706.0" cy="1331.0" r="5.9"/>
<circle cx="712.6" cy="1322.8" r="5.9"/>
<circle cx="717.6" cy="1339.3" r="5.9"/>
<circle cx="729.1" cy="1329.4" r="5.9"/>
<circle cx="735.7" cy="1337.6" r="5.9"/>
<circle cx="727.5" cy="1352.5" r="5.9"/>
<circle cx="697.8" cy="1355.8" r="5.9"/>
<circle cx="681.3" cy="1355.8" r="5.9"/>
<circle cx="658.2" cy="1352.5" r="5.9"/>
<circle cx="643.4" cy="1352.5" r="5.9"/>
<circle cx="628.6" cy="1347.5" r="5.9"/>
<circle cx="615.4" cy="1350.8" r="5.9"/>
<circle cx="602.2" cy="1340.9" r="5.9"/>
<circle cx="592.3" cy="1336.0" r="5.9"/>
<circle cx="582.4" cy="1347.5" r="5.9"/>
<circle cx="570.9" cy="1357.4" r="5.9"/>
<circle cx="565.9" cy="1337.6" r="5.9"/>
<circle cx="554.4" cy="1329.4" r="5.9"/>
<circle cx="557.7" cy="1321.2" r="5.9"/>
<circle cx="547.8" cy="1336.0" r="5.9"/>
<circle cx="552.7" cy="1347.5" r="5.9"/>
<circle cx="559.3" cy="1355.8" r="5.9"/>
<circle cx="536.3" cy="1329.4" r="5.9"/>
<circle cx="531.3" cy="1349.2" r="5.9"/>
<circle cx="519.8" cy="1355.8" r="5.9"/>
<circle cx="507.4" cy="1346.7" r="5.9"/>
<circle cx="513.2" cy="1326.1" r="5.9"/>
<circle cx="527.2" cy="1318.7" r="5.9"/>
<circle cx="528.0" cy="1327.7" r="5.9"/>
<circle cx="582.4" cy="1319.5" r="5.9"/>
<circle cx="592.3" cy="1319.5" r="5.9"/>
<circle cx="603.0" cy="1324.5" r="5.9"/>
<circle cx="618.7" cy="1324.5" r="5.9"/>
<circle cx="625.3" cy="1334.3" r="5.9"/>
<circle cx="603.8" cy="1311.3" r="5.9"/>
<circle cx="739.0" cy="1349.2" r="5.9"/>
<circle cx="793.6" cy="1136.9" r="5.9"/>
<circle cx="822.4" cy="1136.5" r="5.9"/>
<circle cx="771.6" cy="1144.0" r="5.9"/>
<circle cx="807.3" cy="1144.5" r="5.9"/>
<circle cx="789.5" cy="1162.1" r="5.9"/>
<circle cx="821.6" cy="1172.0" r="5.9"/>
<circle cx="848.0" cy="1163.7" r="5.9"/>
<circle cx="852.1" cy="1169.5" r="5.9"/>
<circle cx="871.0" cy="1156.0" r="5.9"/>
<circle cx="885.1" cy="1151.0" r="5.9"/>
<circle cx="873.5" cy="1179.7" r="5.9"/>
<circle cx="885.1" cy="1177.7" r="5.9"/>
<circle cx="972.7" cy="1171.5" r="5.9"/>
<circle cx="760.1" cy="1183.5" r="5.9"/>
<circle cx="762.3" cy="1196.7" r="5.9"/>
<circle cx="781.2" cy="1189.6" r="5.9"/>
<circle cx="799.3" cy="1189.3" r="5.9"/>
<circle cx="812.2" cy="1195.1" r="5.9"/>
<circle cx="808.4" cy="1205.8" r="5.9"/>
<circle cx="781.2" cy="1213.2" r="5.9"/>
<circle cx="834.3" cy="1212.4" r="5.9"/>
<circle cx="853.4" cy="1208.7" r="5.9"/>
<circle cx="885.1" cy="1191.8" r="5.9"/>
<circle cx="892.5" cy="1189.3" r="5.9"/>
<circle cx="912.7" cy="1190.6" r="5.9"/>
<circle cx="934.2" cy="1200.8" r="5.9"/>
<circle cx="944.4" cy="1215.7" r="5.9"/>
<circle cx="950.2" cy="1216.5" r="5.9"/>
<circle cx="916.4" cy="1220.9" r="5.9"/>
<circle cx="881.8" cy="1224.2" r="5.9"/>
<circle cx="740.8" cy="1235.4" r="5.9"/>
<circle cx="751.5" cy="1223.9" r="5.9"/>
<circle cx="775.9" cy="1230.5" r="5.9"/>
<circle cx="797.7" cy="1228.8" r="5.9"/>
<circle cx="791.1" cy="1235.4" r="5.9"/>
<circle cx="763.1" cy="1242.0" r="5.9"/>
<circle cx="783.2" cy="1243.4" r="5.9"/>
<circle cx="797.7" cy="1243.7" r="5.9"/>
<circle cx="838.9" cy="1225.5" r="5.9"/>
<circle cx="842.2" cy="1232.1" r="5.9"/>
<circle cx="858.7" cy="1228.0" r="5.9"/>
<circle cx="865.3" cy="1232.1" r="5.9"/>
<circle cx="860.0" cy="1242.9" r="5.9"/>
<circle cx="872.7" cy="1239.6" r="5.9"/>
<circle cx="876.8" cy="1250.3" r="5.9"/>
<circle cx="884.2" cy="1248.6" r="5.9"/>
<circle cx="897.4" cy="1248.6" r="5.9"/>
<circle cx="904.8" cy="1247.0" r="5.9"/>
<circle cx="909.8" cy="1257.7" r="5.9"/>
<circle cx="901.5" cy="1256.9" r="5.9"/>
<circle cx="904.0" cy="1265.9" r="5.9"/>
<circle cx="880.9" cy="1270.9" r="5.9"/>
<circle cx="860.7" cy="1262.6" r="5.9"/>
<circle cx="826.0" cy="1264.3" r="5.9"/>
<circle cx="840.2" cy="1264.8" r="5.9"/>
<circle cx="741.6" cy="1251.9" r="5.9"/>
<circle cx="763.1" cy="1256.0" r="5.9"/>
<circle cx="777.9" cy="1254.4" r="5.9"/>
<circle cx="791.1" cy="1256.0" r="5.9"/>
<circle cx="773.8" cy="1265.9" r="5.9"/>
<circle cx="782.9" cy="1265.1" r="5.9"/>
<circle cx="794.4" cy="1268.4" r="5.9"/>
<circle cx="806.8" cy="1273.4" r="5.9"/>
<circle cx="806.8" cy="1279.9" r="5.9"/>
<circle cx="775.4" cy="1276.6" r="5.9"/>
<circle cx="783.2" cy="1282.4" r="5.9"/>
<circle cx="793.6" cy="1285.7" r="5.9"/>
<circle cx="805.9" cy="1290.7" r="5.9"/>
<circle cx="751.5" cy="1290.7" r="5.9"/>
<circle cx="762.3" cy="1299.7" r="5.9"/>
<circle cx="773.8" cy="1290.7" r="5.9"/>
<circle cx="781.2" cy="1298.1" r="5.9"/>
<circle cx="774.6" cy="1303.8" r="5.9"/>
<circle cx="816.6" cy="1299.7" r="5.9"/>
<circle cx="825.7" cy="1294.8" r="5.9"/>
<circle cx="829.0" cy="1301.4" r="5.9"/>
<circle cx="862.0" cy="1287.4" r="5.9"/>
<circle cx="871.0" cy="1287.4" r="5.9"/>
<circle cx="878.5" cy="1294.8" r="5.9"/>
<circle cx="886.7" cy="1299.7" r="5.9"/>
<circle cx="876.8" cy="1308.8" r="5.9"/>
<circle cx="900.7" cy="1287.4" r="5.9"/>
<circle cx="905.7" cy="1297.3" r="5.9"/>
<circle cx="964.5" cy="1265.9" r="5.9"/>
<circle cx="972.4" cy="1265.1" r="5.9"/>
<circle cx="970.8" cy="1276.6" r="5.9"/>
<circle cx="972.7" cy="1289.0" r="5.9"/>
<circle cx="946.0" cy="1276.6" r="5.9"/>
<circle cx="953.5" cy="1279.1" r="5.9"/>
<circle cx="938.6" cy="1286.5" r="5.9"/>
<circle cx="946.9" cy="1291.5" r="5.9"/>
<circle cx="940.3" cy="1307.1" r="5.9"/>
<circle cx="949.3" cy="1312.9" r="5.9"/>
<circle cx="955.9" cy="1319.5" r="5.9"/>
<circle cx="962.5" cy="1324.5" r="5.9"/>
<circle cx="966.6" cy="1330.2" r="5.9"/>
<circle cx="932.9" cy="1324.5" r="5.9"/>
<circle cx="941.1" cy="1330.2" r="5.9"/>
<circle cx="915.5" cy="1311.3" r="5.9"/>
<circle cx="913.1" cy="1321.2" r="5.9"/>
<circle cx="906.5" cy="1324.5" r="5.9"/>
<circle cx="915.5" cy="1333.5" r="5.9"/>
<circle cx="885.1" cy="1317.0" r="5.9"/>
<circle cx="894.9" cy="1321.2" r="5.9"/>
<circle cx="898.2" cy="1329.4" r="5.9"/>
<circle cx="853.7" cy="1306.3" r="5.9"/>
<circle cx="853.7" cy="1313.7" r="5.9"/>
<circle cx="838.1" cy="1311.3" r="5.9"/>
<circle cx="838.1" cy="1322.8" r="5.9"/>
<circle cx="863.3" cy="1323.6" r="5.9"/>
<circle cx="848.8" cy="1329.4" r="5.9"/>
<circle cx="870.2" cy="1336.0" r="5.9"/>
<circle cx="870.2" cy="1342.6" r="5.9"/>
<circle cx="873.8" cy="1354.1" r="5.9"/>
<circle cx="905.2" cy="1353.3" r="5.9"/>
<circle cx="939.1" cy="1351.6" r="5.9"/>
<circle cx="951.3" cy="1352.5" r="5.9"/>
<circle cx="955.1" cy="1340.1" r="5.9"/>
<circle cx="974.1" cy="1352.5" r="5.9"/>
<circle cx="805.9" cy="1307.1" r="5.9"/>
<circle cx="803.5" cy="1316.2" r="5.9"/>
<circle cx="791.9" cy="1315.4" r="5.9"/>
<circle cx="749.9" cy="1312.9" r="5.9"/>
<circle cx="761.4" cy="1319.5" r="5.9"/>
<circle cx="766.4" cy="1331.0" r="5.9"/>
<circle cx="743.3" cy="1329.4" r="5.9"/>
<circle cx="756.5" cy="1334.3" r="5.9"/>
<circle cx="779.6" cy="1326.9" r="5.9"/>
<circle cx="789.5" cy="1327.7" r="5.9"/>
<circle cx="794.4" cy="1336.0" r="5.9"/>
<circle cx="809.2" cy="1337.6" r="5.9"/>
<circle cx="821.6" cy="1345.1" r="5.9"/>
<circle cx="829.0" cy="1329.4" r="5.9"/>
<circle cx="835.6" cy="1337.6" r="5.9"/>
<circle cx="840.5" cy="1344.2" r="5.9"/>
<circle cx="838.9" cy="1355.8" r="5.9"/>
<circle cx="822.4" cy="1355.8" r="5.9"/>
<circle cx="799.3" cy="1349.2" r="5.9"/>
<circle cx="779.6" cy="1350.8" r="5.9"/>
<circle cx="773.0" cy="1340.9" r="5.9"/>
<circle cx="761.4" cy="1355.8" r="5.9"/>
<circle cx="751.5" cy="1345.1" r="5.9"/>
<circle cx="744.9" cy="1359.1" r="5.9"/>
<circle cx="888.4" cy="1359.1" r="5.9"/>
<circle cx="929.6" cy="1359.1" r="5.9"/>
<circle cx="1214.4" cy="1162.6" r="5.9"/>
<circle cx="1071.0" cy="1188.5" r="5.9"/>
<circle cx="1077.6" cy="1214.0" r="5.9"/>
<circle cx="1105.3" cy="1215.3" r="5.9"/>
<circle cx="983.6" cy="1224.2" r="5.9"/>
<circle cx="1040.2" cy="1220.3" r="5.9"/>
<circle cx="1050.1" cy="1240.4" r="5.9"/>
<circle cx="996.8" cy="1261.8" r="5.9"/>
<circle cx="1033.6" cy="1261.8" r="5.9"/>
<circle cx="1120.4" cy="1256.9" r="5.9"/>
<circle cx="1117.1" cy="1275.8" r="5.9"/>
<circle cx="1167.6" cy="1275.8" r="5.9"/>
<circle cx="1209.1" cy="1275.3" r="5.9"/>
<circle cx="980.8" cy="1277.5" r="5.9"/>
<circle cx="989.9" cy="1281.6" r="5.9"/>
<circle cx="995.7" cy="1283.6" r="5.9"/>
<circle cx="989.1" cy="1289.0" r="5.9"/>
<circle cx="1028.6" cy="1275.0" r="5.9"/>
<circle cx="1033.6" cy="1279.6" r="5.9"/>
<circle cx="1054.5" cy="1281.9" r="5.9"/>
<circle cx="1014.6" cy="1294.0" r="5.9"/>
<circle cx="1013.0" cy="1302.2" r="5.9"/>
<circle cx="1015.4" cy="1308.8" r="5.9"/>
<circle cx="1053.8" cy="1301.4" r="5.9"/>
<circle cx="1085.8" cy="1303.4" r="5.9"/>
<circle cx="1149.5" cy="1296.8" r="5.9"/>
<circle cx="1165.4" cy="1306.3" r="5.9"/>
<circle cx="1193.5" cy="1315.4" r="5.9"/>
<circle cx="1146.5" cy="1323.6" r="5.9"/>
<circle cx="1004.7" cy="1327.7" r="5.9"/>
<circle cx="1041.8" cy="1329.4" r="5.9"/>
<circle cx="1059.1" cy="1337.6" r="5.9"/>
<circle cx="1062.4" cy="1344.2" r="5.9"/>
<circle cx="1086.3" cy="1333.0" r="5.9"/>
<circle cx="1083.8" cy="1337.6" r="5.9"/>
<circle cx="1106.1" cy="1340.6" r="5.9"/>
<circle cx="1113.5" cy="1341.3" r="5.9"/>
<circle cx="1131.6" cy="1343.4" r="5.9"/>
<circle cx="1143.2" cy="1339.3" r="5.9"/>
<circle cx="1148.1" cy="1345.1" r="5.9"/>
<circle cx="991.9" cy="1343.4" r="5.9"/>
<circle cx="1024.8" cy="1345.9" r="5.9"/>
<circle cx="1180.3" cy="1351.2" r="5.9"/>
<circle cx="1204.5" cy="1350.0" r="5.9"/>
<circle cx="1214.9" cy="1349.2" r="5.9"/>
<circle cx="1024.8" cy="1359.1" r="5.9"/>
<circle cx="1041.8" cy="1359.1" r="5.9"/>
<circle cx="1399.3" cy="1176.9" r="5.9"/>
<circle cx="1401.9" cy="1197.5" r="5.9"/>
<circle cx="1266.8" cy="1273.7" r="5.9"/>
<circle cx="1288.9" cy="1282.4" r="5.9"/>
<circle cx="1283.9" cy="1307.6" r="5.9"/>
<circle cx="1249.8" cy="1360.1" r="5.9"/>
<circle cx="442.1" cy="1368.5" r="5.9"/>
<circle cx="469.3" cy="1374.0" r="5.9"/>
<circle cx="495.7" cy="1366.9" r="5.9"/>
<circle cx="386.9" cy="1406.4" r="5.9"/>
<circle cx="420.7" cy="1427.5" r="5.9"/>
<circle cx="429.0" cy="1435.4" r="5.9"/>
<circle cx="524.7" cy="1362.4" r="5.9"/>
<circle cx="549.5" cy="1359.9" r="5.9"/>
<circle cx="557.7" cy="1364.9" r="5.9"/>
<circle cx="565.9" cy="1364.1" r="5.9"/>
<circle cx="582.4" cy="1363.2" r="5.9"/>
<circle cx="519.0" cy="1382.2" r="5.9"/>
<circle cx="544.5" cy="1383.0" r="5.9"/>
<circle cx="548.6" cy="1376.4" r="5.9"/>
<circle cx="565.1" cy="1382.2" r="5.9"/>
<circle cx="569.2" cy="1394.6" r="5.9"/>
<circle cx="579.9" cy="1376.4" r="5.9"/>
<circle cx="580.8" cy="1389.6" r="5.9"/>
<circle cx="589.8" cy="1399.5" r="5.9"/>
<circle cx="592.3" cy="1379.7" r="5.9"/>
<circle cx="597.3" cy="1373.1" r="5.9"/>
<circle cx="605.5" cy="1386.3" r="5.9"/>
<circle cx="615.4" cy="1393.7" r="5.9"/>
<circle cx="612.1" cy="1359.9" r="5.9"/>
<circle cx="618.7" cy="1373.1" r="5.9"/>
<circle cx="625.3" cy="1361.6" r="5.9"/>
<circle cx="631.9" cy="1368.2" r="5.9"/>
<circle cx="638.5" cy="1359.9" r="5.9"/>
<circle cx="643.4" cy="1374.8" r="5.9"/>
<circle cx="631.9" cy="1388.0" r="5.9"/>
<circle cx="641.8" cy="1386.3" r="5.9"/>
<circle cx="648.4" cy="1364.9" r="5.9"/>
<circle cx="656.6" cy="1359.9" r="5.9"/>
<circle cx="661.5" cy="1379.7" r="5.9"/>
<circle cx="664.8" cy="1369.8" r="5.9"/>
<circle cx="673.1" cy="1361.6" r="5.9"/>
<circle cx="687.9" cy="1368.2" r="5.9"/>
<circle cx="686.3" cy="1381.4" r="5.9"/>
<circle cx="697.0" cy="1379.7" r="5.9"/>
<circle cx="694.5" cy="1366.5" r="5.9"/>
<circle cx="706.0" cy="1363.2" r="5.9"/>
<circle cx="714.3" cy="1369.8" r="5.9"/>
<circle cx="717.6" cy="1379.7" r="5.9"/>
<circle cx="727.5" cy="1381.4" r="5.9"/>
<circle cx="712.6" cy="1389.6" r="5.9"/>
<circle cx="722.5" cy="1394.6" r="5.9"/>
<circle cx="737.4" cy="1368.2" r="5.9"/>
<circle cx="737.4" cy="1392.9" r="5.9"/>
<circle cx="686.3" cy="1392.1" r="5.9"/>
<circle cx="697.0" cy="1394.6" r="5.9"/>
<circle cx="673.9" cy="1398.7" r="5.9"/>
<circle cx="505.8" cy="1400.3" r="5.9"/>
<circle cx="516.5" cy="1409.4" r="5.9"/>
<circle cx="521.4" cy="1411.9" r="5.9"/>
<circle cx="529.7" cy="1406.1" r="5.9"/>
<circle cx="537.9" cy="1397.9" r="5.9"/>
<circle cx="546.2" cy="1406.1" r="5.9"/>
<circle cx="552.7" cy="1397.9" r="5.9"/>
<circle cx="556.0" cy="1397.0" r="5.9"/>
<circle cx="579.9" cy="1406.9" r="5.9"/>
<circle cx="650.0" cy="1399.5" r="5.9"/>
<circle cx="656.6" cy="1409.4" r="5.9"/>
<circle cx="631.9" cy="1406.1" r="5.9"/>
<circle cx="639.3" cy="1403.6" r="5.9"/>
<circle cx="630.2" cy="1416.0" r="5.9"/>
<circle cx="622.0" cy="1419.3" r="5.9"/>
<circle cx="622.8" cy="1425.9" r="5.9"/>
<circle cx="603.0" cy="1420.1" r="5.9"/>
<circle cx="594.8" cy="1429.2" r="5.9"/>
<circle cx="606.3" cy="1436.6" r="5.9"/>
<circle cx="641.8" cy="1422.6" r="5.9"/>
<circle cx="646.7" cy="1429.2" r="5.9"/>
<circle cx="630.2" cy="1438.2" r="5.9"/>
<circle cx="639.3" cy="1440.4" r="5.9"/>
<circle cx="664.8" cy="1422.6" r="5.9"/>
<circle cx="662.4" cy="1429.2" r="5.9"/>
<circle cx="674.7" cy="1409.4" r="5.9"/>
<circle cx="683.0" cy="1412.7" r="5.9"/>
<circle cx="683.0" cy="1420.9" r="5.9"/>
<circle cx="678.8" cy="1436.6" r="5.9"/>
<circle cx="693.7" cy="1438.2" r="5.9"/>
<circle cx="695.3" cy="1445.7" r="5.9"/>
<circle cx="700.3" cy="1410.2" r="5.9"/>
<circle cx="714.3" cy="1407.7" r="5.9"/>
<circle cx="701.1" cy="1422.6" r="5.9"/>
<circle cx="709.3" cy="1427.5" r="5.9"/>
<circle cx="717.6" cy="1430.8" r="5.9"/>
<circle cx="714.3" cy="1422.6" r="5.9"/>
<circle cx="724.2" cy="1412.7" r="5.9"/>
<circle cx="735.7" cy="1412.7" r="5.9"/>
<circle cx="734.1" cy="1430.8" r="5.9"/>
<circle cx="739.0" cy="1437.4" r="5.9"/>
<circle cx="504.1" cy="1416.8" r="5.9"/>
<circle cx="538.7" cy="1453.9" r="5.9"/>
<circle cx="580.8" cy="1460.8" r="5.9"/>
<circle cx="662.9" cy="1457.2" r="5.9"/>
<circle cx="673.1" cy="1462.1" r="5.9"/>
<circle cx="715.9" cy="1456.4" r="5.9"/>
<circle cx="722.5" cy="1464.6" r="5.9"/>
<circle cx="730.8" cy="1449.8" r="5.9"/>
<circle cx="695.3" cy="1467.1" r="5.9"/>
<circle cx="533.0" cy="1481.1" r="5.9"/>
<circle cx="589.8" cy="1489.3" r="5.9"/>
<circle cx="630.2" cy="1477.3" r="5.9"/>
<circle cx="695.3" cy="1478.3" r="5.9"/>
<circle cx="769.7" cy="1359.9" r="5.9"/>
<circle cx="781.2" cy="1358.3" r="5.9"/>
<circle cx="794.4" cy="1361.6" r="5.9"/>
<circle cx="804.3" cy="1359.9" r="5.9"/>
<circle cx="749.9" cy="1376.4" r="5.9"/>
<circle cx="759.8" cy="1368.2" r="5.9"/>
<circle cx="769.7" cy="1376.4" r="5.9"/>
<circle cx="781.2" cy="1369.8" r="5.9"/>
<circle cx="789.5" cy="1376.4" r="5.9"/>
<circle cx="805.9" cy="1373.1" r="5.9"/>
<circle cx="817.5" cy="1378.1" r="5.9"/>
<circle cx="835.6" cy="1373.1" r="5.9"/>
<circle cx="840.5" cy="1379.7" r="5.9"/>
<circle cx="749.9" cy="1388.0" r="5.9"/>
<circle cx="759.8" cy="1394.6" r="5.9"/>
<circle cx="773.0" cy="1388.0" r="5.9"/>
<circle cx="779.6" cy="1388.0" r="5.9"/>
<circle cx="786.2" cy="1402.8" r="5.9"/>
<circle cx="794.4" cy="1407.7" r="5.9"/>
<circle cx="799.3" cy="1397.0" r="5.9"/>
<circle cx="792.7" cy="1416.8" r="5.9"/>
<circle cx="809.2" cy="1404.5" r="5.9"/>
<circle cx="809.2" cy="1391.3" r="5.9"/>
<circle cx="817.5" cy="1391.3" r="5.9"/>
<circle cx="815.8" cy="1411.9" r="5.9"/>
<circle cx="822.4" cy="1420.9" r="5.9"/>
<circle cx="829.0" cy="1427.5" r="5.9"/>
<circle cx="826.5" cy="1398.7" r="5.9"/>
<circle cx="833.1" cy="1410.2" r="5.9"/>
<circle cx="842.2" cy="1401.2" r="5.9"/>
<circle cx="847.1" cy="1388.0" r="5.9"/>
<circle cx="852.1" cy="1417.6" r="5.9"/>
<circle cx="845.5" cy="1425.9" r="5.9"/>
<circle cx="852.1" cy="1431.6" r="5.9"/>
<circle cx="858.7" cy="1376.4" r="5.9"/>
<circle cx="865.3" cy="1374.8" r="5.9"/>
<circle cx="866.1" cy="1392.1" r="5.9"/>
<circle cx="862.0" cy="1407.7" r="5.9"/>
<circle cx="866.9" cy="1419.3" r="5.9"/>
<circle cx="875.2" cy="1421.8" r="5.9"/>
<circle cx="878.5" cy="1402.8" r="5.9"/>
<circle cx="885.1" cy="1399.5" r="5.9"/>
<circle cx="888.4" cy="1407.7" r="5.9"/>
<circle cx="888.4" cy="1424.2" r="5.9"/>
<circle cx="902.4" cy="1415.2" r="5.9"/>
<circle cx="908.1" cy="1430.8" r="5.9"/>
<circle cx="913.1" cy="1378.1" r="5.9"/>
<circle cx="919.7" cy="1384.7" r="5.9"/>
<circle cx="913.1" cy="1404.5" r="5.9"/>
<circle cx="921.3" cy="1399.5" r="5.9"/>
<circle cx="923.0" cy="1416.8" r="5.9"/>
<circle cx="932.9" cy="1383.0" r="5.9"/>
<circle cx="934.5" cy="1364.9" r="5.9"/>
<circle cx="941.1" cy="1404.5" r="5.9"/>
<circle cx="952.6" cy="1386.3" r="5.9"/>
<circle cx="952.6" cy="1397.0" r="5.9"/>
<circle cx="964.2" cy="1401.2" r="5.9"/>
<circle cx="959.2" cy="1412.7" r="5.9"/>
<circle cx="975.7" cy="1381.4" r="5.9"/>
<circle cx="974.1" cy="1363.2" r="5.9"/>
<circle cx="975.7" cy="1406.1" r="5.9"/>
<circle cx="946.0" cy="1429.2" r="5.9"/>
<circle cx="957.6" cy="1430.8" r="5.9"/>
<circle cx="964.2" cy="1439.1" r="5.9"/>
<circle cx="964.2" cy="1446.5" r="5.9"/>
<circle cx="975.7" cy="1429.2" r="5.9"/>
<circle cx="925.4" cy="1441.5" r="5.9"/>
<circle cx="918.0" cy="1453.9" r="5.9"/>
<circle cx="900.7" cy="1445.7" r="5.9"/>
<circle cx="880.1" cy="1444.0" r="5.9"/>
<circle cx="866.9" cy="1453.9" r="5.9"/>
<circle cx="846.3" cy="1444.8" r="5.9"/>
<circle cx="852.1" cy="1463.0" r="5.9"/>
<circle cx="855.4" cy="1468.7" r="5.9"/>
<circle cx="832.3" cy="1451.4" r="5.9"/>
<circle cx="825.7" cy="1445.7" r="5.9"/>
<circle cx="814.2" cy="1447.3" r="5.9"/>
<circle cx="807.6" cy="1446.5" r="5.9"/>
<circle cx="744.9" cy="1417.6" r="5.9"/>
<circle cx="743.3" cy="1427.5" r="5.9"/>
<circle cx="763.9" cy="1417.6" r="5.9"/>
<circle cx="771.3" cy="1422.6" r="5.9"/>
<circle cx="767.2" cy="1430.8" r="5.9"/>
<circle cx="773.0" cy="1450.6" r="5.9"/>
<circle cx="753.2" cy="1459.7" r="5.9"/>
<circle cx="789.5" cy="1465.4" r="5.9"/>
<circle cx="787.8" cy="1473.7" r="5.9"/>
<circle cx="789.5" cy="1486.0" r="5.9"/>
<circle cx="771.3" cy="1476.2" r="5.9"/>
<circle cx="817.5" cy="1472.9" r="5.9"/>
<circle cx="832.3" cy="1471.2" r="5.9"/>
<circle cx="840.5" cy="1475.3" r="5.9"/>
<circle cx="876.8" cy="1484.4" r="5.9"/>
<circle cx="894.1" cy="1472.0" r="5.9"/>
<circle cx="899.1" cy="1489.3" r="5.9"/>
<circle cx="913.1" cy="1467.1" r="5.9"/>
<circle cx="965.8" cy="1464.6" r="5.9"/>
<circle cx="965.8" cy="1473.7" r="5.9"/>
<circle cx="920.5" cy="1499.2" r="5.9"/>
<circle cx="923.0" cy="1508.3" r="5.9"/>
<circle cx="944.4" cy="1499.2" r="5.9"/>
<circle cx="960.9" cy="1499.2" r="5.9"/>
<circle cx="975.7" cy="1495.9" r="5.9"/>
<circle cx="937.0" cy="1516.5" r="5.9"/>
<circle cx="898.2" cy="1514.9" r="5.9"/>
<circle cx="859.0" cy="1512.9" r="5.9"/>
<circle cx="896.6" cy="1361.6" r="5.9"/>
<circle cx="885.1" cy="1376.4" r="5.9"/>
<circle cx="1050.5" cy="1368.5" r="5.9"/>
<circle cx="1014.9" cy="1378.9" r="5.9"/>
<circle cx="1072.0" cy="1377.3" r="5.9"/>
<circle cx="1095.4" cy="1365.7" r="5.9"/>
<circle cx="1091.8" cy="1376.1" r="5.9"/>
<circle cx="1119.3" cy="1366.9" r="5.9"/>
<circle cx="1154.4" cy="1383.8" r="5.9"/>
<circle cx="1177.5" cy="1379.7" r="5.9"/>
<circle cx="1214.4" cy="1396.5" r="5.9"/>
<circle cx="1053.4" cy="1397.0" r="5.9"/>
<circle cx="1005.1" cy="1418.5" r="5.9"/>
<circle cx="1029.5" cy="1425.5" r="5.9"/>
<circle cx="1060.4" cy="1425.5" r="5.9"/>
<circle cx="1072.3" cy="1426.2" r="5.9"/>
<circle cx="1084.7" cy="1429.5" r="5.9"/>
<circle cx="1107.7" cy="1434.9" r="5.9"/>
<circle cx="1125.4" cy="1414.7" r="5.9"/>
<circle cx="1151.1" cy="1420.6" r="5.9"/>
<circle cx="1199.2" cy="1423.4" r="5.9"/>
<circle cx="1207.8" cy="1443.2" r="5.9"/>
<circle cx="1163.8" cy="1449.0" r="5.9"/>
<circle cx="1002.3" cy="1442.4" r="5.9"/>
<circle cx="1006.7" cy="1445.7" r="5.9"/>
<circle cx="1013.8" cy="1459.7" r="5.9"/>
<circle cx="1053.8" cy="1439.9" r="5.9"/>
<circle cx="1058.8" cy="1449.8" r="5.9"/>
<circle cx="1079.7" cy="1443.2" r="5.9"/>
<circle cx="1079.7" cy="1452.6" r="5.9"/>
<circle cx="1079.2" cy="1463.0" r="5.9"/>
<circle cx="1095.4" cy="1451.4" r="5.9"/>
<circle cx="1003.9" cy="1471.2" r="5.9"/>
<circle cx="1027.0" cy="1477.8" r="5.9"/>
<circle cx="1056.2" cy="1479.0" r="5.9"/>
<circle cx="1061.1" cy="1477.3" r="5.9"/>
<circle cx="1138.6" cy="1479.5" r="5.9"/>
<circle cx="1174.8" cy="1503.0" r="5.9"/>
<circle cx="1151.8" cy="1524.0" r="5.9"/>
<circle cx="1155.5" cy="1533.0" r="5.9"/>
<circle cx="1009.3" cy="1535.0" r="5.9"/>
<circle cx="1040.7" cy="1532.2" r="5.9"/>
<circle cx="1058.8" cy="1540.4" r="5.9"/>
<circle cx="1280.6" cy="1369.0" r="5.9"/>
<circle cx="1337.2" cy="1385.0" r="5.9"/>
<circle cx="1342.9" cy="1381.7" r="5.9"/>
<circle cx="1256.9" cy="1415.7" r="5.9"/>
<circle cx="1347.0" cy="1418.0" r="5.9"/>
<circle cx="1394.0" cy="1415.2" r="5.9"/>
<circle cx="1389.1" cy="1428.4" r="5.9"/>
<circle cx="1419.6" cy="1425.5" r="5.9"/>
<circle cx="1450.1" cy="1405.8" r="5.9"/>
<circle cx="1304.7" cy="1443.2" r="5.9"/>
<circle cx="1261.8" cy="1455.2" r="5.9"/>
<circle cx="1372.3" cy="1475.0" r="5.9"/>
<circle cx="1388.7" cy="1467.9" r="5.9"/>
<circle cx="1406.4" cy="1504.2" r="5.9"/>
<circle cx="1308.0" cy="1516.2" r="5.9"/>
<circle cx="1353.1" cy="1526.1" r="5.9"/>
<circle cx="864.6" cy="307.5" r="5.9"/>
<circle cx="850.4" cy="313.3" r="5.9"/>
<circle cx="858.0" cy="327.1" r="5.9"/>
<circle cx="885.5" cy="311.5" r="5.9"/>
<circle cx="882.8" cy="319.5" r="5.9"/>
<circle cx="894.4" cy="320.4" r="5.9"/>
<circle cx="895.3" cy="328.4" r="5.9"/>
<circle cx="898.8" cy="308.9" r="5.9"/>
<circle cx="918.4" cy="305.3" r="5.9"/>
<circle cx="912.1" cy="322.2" r="5.9"/>
<circle cx="907.7" cy="326.6" r="5.9"/>
<circle cx="921.9" cy="316.0" r="5.9"/>
<circle cx="925.5" cy="326.6" r="5.9"/>
<circle cx="929.0" cy="312.4" r="5.9"/>
<circle cx="827.8" cy="342.6" r="5.9"/>
<circle cx="838.4" cy="338.2" r="5.9"/>
<circle cx="848.2" cy="341.7" r="5.9"/>
<circle cx="858.0" cy="344.4" r="5.9"/>
<circle cx="867.7" cy="340.9" r="5.9"/>
<circle cx="863.3" cy="351.5" r="5.9"/>
<circle cx="868.6" cy="361.3" r="5.9"/>
<circle cx="874.0" cy="355.1" r="5.9"/>
<circle cx="885.5" cy="356.8" r="5.9"/>
<circle cx="883.7" cy="362.2" r="5.9"/>
<circle cx="891.7" cy="348.9" r="5.9"/>
<circle cx="898.8" cy="342.6" r="5.9"/>
<circle cx="907.7" cy="338.2" r="5.9"/>
<circle cx="903.3" cy="353.3" r="5.9"/>
<circle cx="913.0" cy="349.7" r="5.9"/>
<circle cx="916.6" cy="362.2" r="5.9"/>
<circle cx="921.0" cy="371.1" r="5.9"/>
<circle cx="927.2" cy="360.4" r="5.9"/>
<circle cx="929.0" cy="372.8" r="5.9"/>
<circle cx="929.9" cy="344.4" r="5.9"/>
<circle cx="899.7" cy="367.5" r="5.9"/>
<circle cx="895.3" cy="364.0" r="5.9"/>
<circle cx="900.6" cy="385.3" r="5.9"/>
<circle cx="888.2" cy="378.2" r="5.9"/>
<circle cx="881.1" cy="383.5" r="5.9"/>
<circle cx="873.1" cy="373.7" r="5.9"/>
<circle cx="863.3" cy="378.2" r="5.9"/>
<circle cx="856.2" cy="373.7" r="5.9"/>
<circle cx="850.0" cy="376.4" r="5.9"/>
<circle cx="843.8" cy="383.5" r="5.9"/>
<circle cx="836.6" cy="377.3" r="5.9"/>
<circle cx="833.1" cy="368.4" r="5.9"/>
<circle cx="828.7" cy="372.8" r="5.9"/>
<circle cx="826.0" cy="362.2" r="5.9"/>
<circle cx="820.7" cy="354.2" r="5.9"/>
<circle cx="836.6" cy="354.2" r="5.9"/>
<circle cx="850.0" cy="356.8" r="5.9"/>
<circle cx="814.4" cy="368.4" r="5.9"/>
<circle cx="813.6" cy="382.6" r="5.9"/>
<circle cx="836.6" cy="390.6" r="5.9"/>
<circle cx="832.2" cy="388.8" r="5.9"/>
<circle cx="845.5" cy="395.9" r="5.9"/>
<circle cx="847.3" cy="406.6" r="5.9"/>
<circle cx="852.6" cy="406.6" r="5.9"/>
<circle cx="855.3" cy="415.5" r="5.9"/>
<circle cx="826.0" cy="399.5" r="5.9"/>
<circle cx="815.3" cy="400.4" r="5.9"/>
<circle cx="830.4" cy="411.0" r="5.9"/>
<circle cx="836.6" cy="415.5" r="5.9"/>
<circle cx="834.9" cy="422.6" r="5.9"/>
<circle cx="823.3" cy="422.6" r="5.9"/>
<circle cx="863.3" cy="397.7" r="5.9"/>
<circle cx="872.2" cy="397.7" r="5.9"/>
<circle cx="878.4" cy="397.7" r="5.9"/>
<circle cx="885.5" cy="391.5" r="5.9"/>
<circle cx="892.6" cy="396.8" r="5.9"/>
<circle cx="879.3" cy="406.6" r="5.9"/>
<circle cx="867.7" cy="411.0" r="5.9"/>
<circle cx="872.2" cy="419.9" r="5.9"/>
<circle cx="870.4" cy="428.8" r="5.9"/>
<circle cx="881.1" cy="422.6" r="5.9"/>
<circle cx="885.5" cy="428.8" r="5.9"/>
<circle cx="891.7" cy="430.6" r="5.9"/>
<circle cx="898.8" cy="427.9" r="5.9"/>
<circle cx="907.7" cy="424.4" r="5.9"/>
<circle cx="912.1" cy="415.5" r="5.9"/>
<circle cx="921.0" cy="415.5" r="5.9"/>
<circle cx="911.3" cy="403.9" r="5.9"/>
<circle cx="919.3" cy="403.9" r="5.9"/>
<circle cx="900.6" cy="439.5" r="5.9"/>
<circle cx="880.2" cy="443.9" r="5.9"/>
<circle cx="859.7" cy="445.7" r="5.9"/>
<circle cx="870.4" cy="449.2" r="5.9"/>
<circle cx="839.3" cy="436.8" r="5.9"/>
<circle cx="832.2" cy="439.5" r="5.9"/>
<circle cx="820.7" cy="434.1" r="5.9"/>
<circle cx="916.6" cy="439.5" r="5.9"/>
<circle cx="928.1" cy="436.8" r="5.9"/>
<circle cx="929.0" cy="427.0" r="5.9"/>
<circle cx="809.0" cy="344.2" r="5.9"/>
<circle cx="911.4" cy="267.5" r="5.9"/>
<circle cx="917.1" cy="265.9" r="5.9"/>
<circle cx="918.0" cy="279.9" r="5.9"/>
<circle cx="900.7" cy="285.7" r="5.9"/>
<circle cx="890.8" cy="280.7" r="5.9"/>
<circle cx="882.5" cy="287.3" r="5.9"/>
<circle cx="929.5" cy="277.4" r="5.9"/>
<circle cx="929.5" cy="292.3" r="5.9"/>
<circle cx="894.1" cy="298.0" r="5.9"/>
<circle cx="910.5" cy="299.7" r="5.9"/>
<circle cx="801.3" cy="361.5" r="5.9"/>
<circle cx="808.7" cy="353.2" r="5.9"/>
<circle cx="793.0" cy="373.8" r="5.9"/>
<circle cx="802.9" cy="381.3" r="5.9"/>
<circle cx="780.7" cy="379.6" r="5.9"/>
<circle cx="780.7" cy="387.9" r="5.9"/>
<circle cx="805.4" cy="391.2" r="5.9"/>
<circle cx="793.8" cy="392.8" r="5.9"/>
<circle cx="784.0" cy="404.3" r="5.9"/>
<circle cx="798.8" cy="404.3" r="5.9"/>
<circle cx="769.9" cy="409.3" r="5.9"/>
<circle cx="777.4" cy="412.6" r="5.9"/>
<circle cx="790.5" cy="415.9" r="5.9"/>
<circle cx="807.0" cy="417.5" r="5.9"/>
<circle cx="801.3" cy="424.1" r="5.9"/>
<circle cx="772.4" cy="420.8" r="5.9"/>
<circle cx="757.6" cy="424.1" r="5.9"/>
<circle cx="769.1" cy="428.2" r="5.9"/>
<circle cx="772.4" cy="434.0" r="5.9"/>
<circle cx="743.6" cy="413.4" r="5.9"/>
<circle cx="747.7" cy="418.4" r="5.9"/>
<circle cx="741.1" cy="407.6" r="5.9"/>
<circle cx="732.0" cy="426.6" r="5.9"/>
<circle cx="715.5" cy="434.8" r="5.9"/>
<circle cx="700.7" cy="443.9" r="5.9"/>
<circle cx="693.3" cy="454.6" r="5.9"/>
<circle cx="702.4" cy="457.9" r="5.9"/>
<circle cx="721.3" cy="461.2" r="5.9"/>
<circle cx="734.5" cy="460.4" r="5.9"/>
<circle cx="746.0" cy="444.7" r="5.9"/>
<circle cx="756.8" cy="441.4" r="5.9"/>
<circle cx="757.6" cy="452.1" r="5.9"/>
<circle cx="751.8" cy="450.5" r="5.9"/>
<circle cx="789.7" cy="439.8" r="5.9"/>
<circle cx="799.6" cy="446.4" r="5.9"/>
<circle cx="802.1" cy="453.0" r="5.9"/>
<circle cx="793.0" cy="448.0" r="5.9"/>
<circle cx="808.7" cy="441.4" r="5.9"/>
<circle cx="751.8" cy="467.0" r="5.9"/>
<circle cx="772.4" cy="466.2" r="5.9"/>
<circle cx="712.3" cy="469.5" r="5.9"/>
<circle cx="690.0" cy="464.5" r="5.9"/>
<circle cx="796.3" cy="469.5" r="5.9"/>
<circle cx="877.7" cy="325.7" r="5.9"/>
<circle cx="846.2" cy="331.5" r="5.9"/>
<circle cx="873.2" cy="331.4" r="5.9"/>
<circle cx="885.4" cy="330.5" r="5.9"/>
<circle cx="879.8" cy="341.8" r="5.9"/>
<circle cx="887.7" cy="339.3" r="5.9"/>
<circle cx="837.8" cy="346.6" r="5.9"/>
<circle cx="861.3" cy="358.7" r="5.9"/>
<circle cx="896.7" cy="356.4" r="5.9"/>
<circle cx="846.5" cy="363.7" r="5.9"/>
<circle cx="854.0" cy="363.9" r="5.9"/>
<circle cx="863.2" cy="366.5" r="5.9"/>
<circle cx="842.7" cy="373.5" r="5.9"/>
<circle cx="880.6" cy="371.6" r="5.9"/>
<circle cx="905.9" cy="372.0" r="5.9"/>
<circle cx="824.6" cy="380.7" r="5.9"/>
<circle cx="856.2" cy="381.6" r="5.9"/>
<circle cx="873.6" cy="381.6" r="5.9"/>
<circle cx="911.3" cy="383.2" r="5.9"/>
<circle cx="920.8" cy="381.7" r="5.9"/>
<circle cx="823.3" cy="391.6" r="5.9"/>
<circle cx="859.5" cy="390.9" r="5.9"/>
<circle cx="868.9" cy="391.1" r="5.9"/>
<circle cx="916.3" cy="389.6" r="5.9"/>
<circle cx="834.5" cy="397.8" r="5.9"/>
<circle cx="853.8" cy="396.3" r="5.9"/>
<circle cx="903.8" cy="396.5" r="5.9"/>
<circle cx="913.2" cy="396.7" r="5.9"/>
<circle cx="839.3" cy="405.1" r="5.9"/>
<circle cx="888.7" cy="406.3" r="5.9"/>
<circle cx="898.3" cy="405.3" r="5.9"/>
<circle cx="846.6" cy="415.4" r="5.9"/>
<circle cx="881.9" cy="414.1" r="5.9"/>
<circle cx="893.1" cy="412.5" r="5.9"/>
<circle cx="903.1" cy="412.6" r="5.9"/>
<circle cx="859.8" cy="424.4" r="5.9"/>
<circle cx="912.4" cy="432.3" r="5.9"/>
<circle cx="888.6" cy="439.6" r="5.9"/>
<circle cx="883.8" cy="300.7" r="5.9"/>
<circle cx="908.9" cy="308.5" r="5.9"/>
<circle cx="930.3" cy="332.6" r="5.9"/>
<circle cx="915.9" cy="341.9" r="5.9"/>
<circle cx="936.6" cy="342.2" r="5.9"/>
<circle cx="955.7" cy="341.7" r="5.9"/>
<circle cx="937.6" cy="358.5" r="5.9"/>
<circle cx="632.1" cy="1327.0" r="5.9"/>
<circle cx="681.3" cy="1328.1" r="5.9"/>
<circle cx="699.2" cy="1327.4" r="5.9"/>
<circle cx="617.9" cy="1335.8" r="5.9"/>
<circle cx="636.6" cy="1333.3" r="5.9"/>
<circle cx="676.3" cy="1335.6" r="5.9"/>
<circle cx="685.5" cy="1333.9" r="5.9"/>
<circle cx="622.1" cy="1341.7" r="5.9"/>
<circle cx="634.4" cy="1342.7" r="5.9"/>
<circle cx="641.8" cy="1344.2" r="5.9"/>
<circle cx="650.7" cy="1342.5" r="5.9"/>
<circle cx="661.4" cy="1343.7" r="5.9"/>
<circle cx="699.9" cy="1343.6" r="5.9"/>
<circle cx="685.1" cy="1349.6" r="5.9"/>
<circle cx="693.8" cy="1349.7" r="5.9"/>
<circle cx="705.9" cy="1351.8" r="5.9"/>
<circle cx="690.5" cy="1359.1" r="5.9"/>
<circle cx="657.4" cy="1368.9" r="5.9"/>
<circle cx="676.9" cy="1368.1" r="5.9"/>
<circle cx="632.4" cy="1375.4" r="5.9"/>
<circle cx="652.5" cy="1377.3" r="5.9"/>
<circle cx="671.9" cy="1375.1" r="5.9"/>
<circle cx="680.2" cy="1377.5" r="5.9"/>
<circle cx="656.1" cy="1385.6" r="5.9"/>
<circle cx="675.1" cy="1384.9" r="5.9"/>
<circle cx="712.4" cy="1289.0" r="5.9"/>
<circle cx="703.9" cy="1304.7" r="5.9"/>
<circle cx="712.4" cy="1306.3" r="5.9"/>
<circle cx="705.4" cy="1320.0" r="5.9"/>
<circle cx="739.6" cy="1297.3" r="5.9"/>
<circle cx="745.1" cy="1302.8" r="5.9"/>
<circle cx="756.9" cy="1305.4" r="5.9"/>
<circle cx="742.2" cy="1313.8" r="5.9"/>
<circle cx="769.3" cy="1314.0" r="5.9"/>
<circle cx="727.0" cy="1319.7" r="5.9"/>
<circle cx="735.2" cy="1319.2" r="5.9"/>
<circle cx="746.5" cy="1338.9" r="5.9"/>
<circle cx="790.1" cy="1346.1" r="5.9"/>
<circle cx="792.9" cy="1354.1" r="5.9"/>
<circle cx="811.9" cy="1352.4" r="5.9"/>
<circle cx="753.6" cy="1361.9" r="5.9"/>
<circle cx="819.6" cy="1363.1" r="5.9"/>
<circle cx="828.6" cy="1360.9" r="5.9"/>
<circle cx="847.2" cy="1360.5" r="5.9"/>
<circle cx="815.4" cy="1369.5" r="5.9"/>
<circle cx="844.2" cy="1369.6" r="5.9"/>
<circle cx="762.1" cy="1376.8" r="5.9"/>
<circle cx="778.5" cy="1378.6" r="5.9"/>
<circle cx="797.9" cy="1379.4" r="5.9"/>
<circle cx="828.9" cy="1376.7" r="5.9"/>
<circle cx="757.7" cy="1384.5" r="5.9"/>
<circle cx="802.3" cy="1386.7" r="5.9"/>
<circle cx="831.4" cy="1387.6" r="5.9"/>
<circle cx="790.5" cy="1394.0" r="5.9"/>
<circle cx="563.9" cy="1263.3" r="5.9"/>
<circle cx="594.9" cy="1270.6" r="5.9"/>
<circle cx="563.3" cy="1280.0" r="5.9"/>
<circle cx="582.2" cy="1279.9" r="5.9"/>
<circle cx="581.4" cy="1295.6" r="5.9"/>
<circle cx="590.4" cy="1293.7" r="5.9"/>
<circle cx="565.8" cy="1304.1" r="5.9"/>
<circle cx="584.1" cy="1304.4" r="5.9"/>
<circle cx="596.3" cy="1302.1" r="5.9"/>
<circle cx="703.7" cy="1370.5" r="5.9"/>
<circle cx="721.8" cy="1368.4" r="5.9"/>
<circle cx="710.1" cy="1377.1" r="5.9"/>
<circle cx="702.4" cy="1388.6" r="5.9"/>
<circle cx="755.1" cy="1298.4" r="5.9"/>
<circle cx="795.4" cy="1301.1" r="5.9"/>
<circle cx="790.4" cy="1307.2" r="5.9"/>
<circle cx="797.1" cy="1310.2" r="5.9"/>
<circle cx="819.5" cy="1310.0" r="5.9"/>
<circle cx="783.6" cy="1314.9" r="5.9"/>
<circle cx="812.3" cy="1316.3" r="5.9"/>
<circle cx="750.0" cy="1326.8" r="5.9"/>
<circle cx="759.2" cy="1326.5" r="5.9"/>
<circle cx="771.2" cy="1323.8" r="5.9"/>
<circle cx="798.5" cy="1326.9" r="5.9"/>
<circle cx="810.5" cy="1326.6" r="5.9"/>
<circle cx="776.6" cy="1333.2" r="5.9"/>
<circle cx="804.0" cy="1331.7" r="5.9"/>
<circle cx="762.2" cy="1341.7" r="5.9"/>
<circle cx="780.9" cy="1341.0" r="5.9"/>
<circle cx="800.2" cy="1340.7" r="5.9"/>
<circle cx="829.1" cy="1341.3" r="5.9"/>
<circle cx="544.1" cy="1277.0" r="5.9"/>
<circle cx="542.7" cy="1295.0" r="5.9"/>
<circle cx="555.8" cy="1296.6" r="5.9"/>
<circle cx="544.7" cy="1313.1" r="5.9"/>
<circle cx="563.6" cy="1311.1" r="5.9"/>
<circle cx="541.6" cy="1319.6" r="5.9"/>
<circle cx="566.7" cy="1318.1" r="5.9"/>
<circle cx="545.9" cy="1328.3" r="5.9"/>
<circle cx="562.3" cy="1328.7" r="5.9"/>
<circle cx="572.8" cy="1328.0" r="5.9"/>
<circle cx="583.0" cy="1327.7" r="5.9"/>
<circle cx="591.2" cy="1326.8" r="5.9"/>
<circle cx="578.0" cy="1336.0" r="5.9"/>
<circle cx="543.1" cy="1342.5" r="5.9"/>
<circle cx="561.7" cy="1343.8" r="5.9"/>
<circle cx="572.8" cy="1345.2" r="5.9"/>
<circle cx="578.7" cy="1353.5" r="5.9"/>
<circle cx="588.3" cy="1352.4" r="5.9"/>
<circle cx="678.1" cy="1263.5" r="5.9"/>
<circle cx="671.0" cy="1269.4" r="5.9"/>
<circle cx="638.7" cy="1280.1" r="5.9"/>
<circle cx="686.6" cy="1278.5" r="5.9"/>
<circle cx="644.5" cy="1286.8" r="5.9"/>
<circle cx="672.5" cy="1288.2" r="5.9"/>
<circle cx="683.6" cy="1286.6" r="5.9"/>
<circle cx="691.0" cy="1287.2" r="5.9"/>
<circle cx="640.9" cy="1296.2" r="5.9"/>
<circle cx="668.8" cy="1296.9" r="5.9"/>
<circle cx="685.1" cy="1294.1" r="5.9"/>
<circle cx="634.8" cy="1303.5" r="5.9"/>
<circle cx="653.8" cy="1301.3" r="5.9"/>
<circle cx="662.4" cy="1304.3" r="5.9"/>
<circle cx="671.5" cy="1303.9" r="5.9"/>
<circle cx="679.8" cy="1302.4" r="5.9"/>
<circle cx="656.5" cy="1310.0" r="5.9"/>
<circle cx="686.6" cy="1312.7" r="5.9"/>
<circle cx="623.0" cy="1317.6" r="5.9"/>
</g>
<g fill="#bc1a3b">
<circle cx="255.2" cy="247.3" r="5.9"/>
<circle cx="291.2" cy="260.3" r="5.9"/>
<circle cx="343.4" cy="311.8" r="5.9"/>
<circle cx="334.8" cy="326.2" r="5.9"/>
<circle cx="254.5" cy="376.7" r="5.9"/>
<circle cx="311.8" cy="379.1" r="5.9"/>
<circle cx="185.4" cy="398.6" r="5.9"/>
<circle cx="388.7" cy="474.8" r="5.9"/>
<circle cx="175.5" cy="689.1" r="5.9"/>
<circle cx="436.1" cy="425.7" r="5.9"/>
<circle cx="531.7" cy="178.1" r="5.9"/>
<circle cx="497.7" cy="206.2" r="5.9"/>
<circle cx="485.3" cy="220.2" r="5.9"/>
<circle cx="536.3" cy="207.6" r="5.9"/>
<circle cx="551.7" cy="197.8" r="5.9"/>
<circle cx="558.7" cy="190.4" r="5.9"/>
<circle cx="595.4" cy="193.2" r="5.9"/>
<circle cx="614.0" cy="193.6" r="5.9"/>
<circle cx="656.4" cy="207.9" r="5.9"/>
<circle cx="590.2" cy="218.4" r="5.9"/>
<circle cx="645.2" cy="225.1" r="5.9"/>
<circle cx="562.2" cy="224.4" r="5.9"/>
<circle cx="565.7" cy="225.1" r="5.9"/>
<circle cx="562.5" cy="231.7" r="5.9"/>
<circle cx="574.8" cy="228.9" r="5.9"/>
<circle cx="611.2" cy="231.0" r="5.9"/>
<circle cx="462.0" cy="262.7" r="5.9"/>
<circle cx="487.9" cy="272.4" r="5.9"/>
<circle cx="476.0" cy="280.8" r="5.9"/>
<circle cx="508.9" cy="254.5" r="5.9"/>
<circle cx="508.9" cy="281.5" r="5.9"/>
<circle cx="536.3" cy="252.1" r="5.9"/>
<circle cx="547.1" cy="246.4" r="5.9"/>
<circle cx="528.9" cy="267.5" r="5.9"/>
<circle cx="531.7" cy="269.2" r="5.9"/>
<circle cx="567.4" cy="266.8" r="5.9"/>
<circle cx="574.1" cy="264.0" r="5.9"/>
<circle cx="573.7" cy="271.0" r="5.9"/>
<circle cx="595.8" cy="265.7" r="5.9"/>
<circle cx="623.8" cy="254.9" r="5.9"/>
<circle cx="634.7" cy="256.6" r="5.9"/>
<circle cx="637.5" cy="264.0" r="5.9"/>
<circle cx="632.9" cy="271.7" r="5.9"/>
<circle cx="634.7" cy="274.1" r="5.9"/>
<circle cx="646.2" cy="251.4" r="5.9"/>
<circle cx="655.0" cy="244.7" r="5.9"/>
<circle cx="660.9" cy="268.9" r="5.9"/>
<circle cx="659.9" cy="288.8" r="5.9"/>
<circle cx="451.1" cy="296.5" r="5.9"/>
<circle cx="441.3" cy="313.4" r="5.9"/>
<circle cx="459.5" cy="310.5" r="5.9"/>
<circle cx="467.2" cy="305.6" r="5.9"/>
<circle cx="473.2" cy="300.4" r="5.9"/>
<circle cx="548.2" cy="297.2" r="5.9"/>
<circle cx="567.4" cy="290.2" r="5.9"/>
<circle cx="581.4" cy="290.2" r="5.9"/>
<circle cx="584.9" cy="292.7" r="5.9"/>
<circle cx="598.2" cy="293.0" r="5.9"/>
<circle cx="604.2" cy="287.4" r="5.9"/>
<circle cx="625.2" cy="299.0" r="5.9"/>
<circle cx="561.8" cy="307.7" r="5.9"/>
<circle cx="564.3" cy="315.1" r="5.9"/>
<circle cx="577.2" cy="309.1" r="5.9"/>
<circle cx="606.7" cy="316.9" r="5.9"/>
<circle cx="617.2" cy="313.4" r="5.9"/>
<circle cx="623.5" cy="314.1" r="5.9"/>
<circle cx="638.2" cy="303.9" r="5.9"/>
<circle cx="645.2" cy="304.9" r="5.9"/>
<circle cx="652.9" cy="303.5" r="5.9"/>
<circle cx="640.3" cy="315.1" r="5.9"/>
<circle cx="655.7" cy="314.4" r="5.9"/>
<circle cx="660.9" cy="302.1" r="5.9"/>
<circle cx="587.0" cy="323.2" r="5.9"/>
<circle cx="527.5" cy="322.1" r="5.9"/>
<circle cx="503.0" cy="328.4" r="5.9"/>
<circle cx="660.9" cy="324.9" r="5.9"/>
<circle cx="660.9" cy="137.5" r="5.9"/>
<circle cx="660.9" cy="176.9" r="5.9"/>
<circle cx="669.0" cy="149.9" r="5.9"/>
<circle cx="741.1" cy="149.0" r="5.9"/>
<circle cx="780.7" cy="156.0" r="5.9"/>
<circle cx="899.4" cy="182.4" r="5.9"/>
<circle cx="669.0" cy="205.8" r="5.9"/>
<circle cx="681.0" cy="227.3" r="5.9"/>
<circle cx="684.9" cy="249.2" r="5.9"/>
<circle cx="672.5" cy="254.5" r="5.9"/>
<circle cx="679.6" cy="255.4" r="5.9"/>
<circle cx="686.6" cy="258.9" r="5.9"/>
<circle cx="684.9" cy="269.5" r="5.9"/>
<circle cx="671.7" cy="294.9" r="5.9"/>
<circle cx="686.6" cy="289.7" r="5.9"/>
<circle cx="679.6" cy="324.0" r="5.9"/>
<circle cx="953.4" cy="214.7" r="5.9"/>
<circle cx="970.5" cy="206.8" r="5.9"/>
<circle cx="520.8" cy="346.0" r="5.9"/>
<circle cx="545.4" cy="349.5" r="5.9"/>
<circle cx="548.9" cy="353.9" r="5.9"/>
<circle cx="550.6" cy="360.9" r="5.9"/>
<circle cx="568.1" cy="351.3" r="5.9"/>
<circle cx="577.8" cy="346.9" r="5.9"/>
<circle cx="573.4" cy="358.3" r="5.9"/>
<circle cx="565.5" cy="363.5" r="5.9"/>
<circle cx="585.6" cy="357.4" r="5.9"/>
<circle cx="590.0" cy="353.0" r="5.9"/>
<circle cx="592.6" cy="372.3" r="5.9"/>
<circle cx="601.4" cy="367.9" r="5.9"/>
<circle cx="608.4" cy="374.0" r="5.9"/>
<circle cx="615.4" cy="378.4" r="5.9"/>
<circle cx="622.4" cy="381.0" r="5.9"/>
<circle cx="625.9" cy="372.3" r="5.9"/>
<circle cx="634.7" cy="375.8" r="5.9"/>
<circle cx="619.8" cy="350.4" r="5.9"/>
<circle cx="624.2" cy="356.5" r="5.9"/>
<circle cx="627.7" cy="360.9" r="5.9"/>
<circle cx="632.9" cy="348.6" r="5.9"/>
<circle cx="639.1" cy="355.6" r="5.9"/>
<circle cx="645.2" cy="347.8" r="5.9"/>
<circle cx="659.2" cy="346.0" r="5.9"/>
<circle cx="648.7" cy="370.5" r="5.9"/>
<circle cx="655.7" cy="364.4" r="5.9"/>
<circle cx="651.3" cy="381.0" r="5.9"/>
<circle cx="660.9" cy="377.5" r="5.9"/>
<circle cx="432.4" cy="367.9" r="5.9"/>
<circle cx="458.1" cy="374.0" r="5.9"/>
<circle cx="437.6" cy="387.7" r="5.9"/>
<circle cx="458.1" cy="393.3" r="5.9"/>
<circle cx="494.9" cy="386.6" r="5.9"/>
<circle cx="485.8" cy="406.4" r="5.9"/>
<circle cx="506.0" cy="403.8" r="5.9"/>
<circle cx="532.7" cy="406.4" r="5.9"/>
<circle cx="535.2" cy="417.8" r="5.9"/>
<circle cx="543.3" cy="384.2" r="5.9"/>
<circle cx="555.5" cy="385.4" r="5.9"/>
<circle cx="571.6" cy="385.4" r="5.9"/>
<circle cx="571.6" cy="394.2" r="5.9"/>
<circle cx="562.0" cy="397.7" r="5.9"/>
<circle cx="574.3" cy="402.1" r="5.9"/>
<circle cx="583.9" cy="391.6" r="5.9"/>
<circle cx="590.0" cy="385.4" r="5.9"/>
<circle cx="617.2" cy="395.1" r="5.9"/>
<circle cx="625.9" cy="388.9" r="5.9"/>
<circle cx="601.8" cy="422.2" r="5.9"/>
<circle cx="620.7" cy="422.2" r="5.9"/>
<circle cx="627.7" cy="416.9" r="5.9"/>
<circle cx="632.9" cy="417.8" r="5.9"/>
<circle cx="653.1" cy="428.0" r="5.9"/>
<circle cx="659.2" cy="441.5" r="5.9"/>
<circle cx="653.1" cy="450.2" r="5.9"/>
<circle cx="660.9" cy="458.1" r="5.9"/>
<circle cx="494.9" cy="433.6" r="5.9"/>
<circle cx="551.0" cy="428.3" r="5.9"/>
<circle cx="586.5" cy="435.0" r="5.9"/>
<circle cx="590.0" cy="435.0" r="5.9"/>
<circle cx="604.0" cy="434.5" r="5.9"/>
<circle cx="525.2" cy="450.2" r="5.9"/>
<circle cx="552.4" cy="461.6" r="5.9"/>
<circle cx="503.7" cy="470.4" r="5.9"/>
<circle cx="508.2" cy="481.4" r="5.9"/>
<circle cx="608.4" cy="484.0" r="5.9"/>
<circle cx="647.8" cy="477.4" r="5.9"/>
<circle cx="579.5" cy="504.5" r="5.9"/>
<circle cx="584.2" cy="509.8" r="5.9"/>
<circle cx="503.0" cy="520.3" r="5.9"/>
<circle cx="530.5" cy="530.8" r="5.9"/>
<circle cx="541.9" cy="532.5" r="5.9"/>
<circle cx="674.3" cy="330.3" r="5.9"/>
<circle cx="667.3" cy="344.3" r="5.9"/>
<circle cx="677.8" cy="347.9" r="5.9"/>
<circle cx="688.4" cy="341.7" r="5.9"/>
<circle cx="665.5" cy="354.9" r="5.9"/>
<circle cx="672.5" cy="354.9" r="5.9"/>
<circle cx="667.3" cy="367.2" r="5.9"/>
<circle cx="669.0" cy="376.0" r="5.9"/>
<circle cx="679.6" cy="364.6" r="5.9"/>
<circle cx="672.5" cy="388.3" r="5.9"/>
<circle cx="684.9" cy="383.0" r="5.9"/>
<circle cx="667.3" cy="405.0" r="5.9"/>
<circle cx="679.6" cy="414.7" r="5.9"/>
<circle cx="679.6" cy="434.0" r="5.9"/>
<circle cx="669.0" cy="437.5" r="5.9"/>
<circle cx="677.8" cy="448.1" r="5.9"/>
<circle cx="672.5" cy="441.0" r="5.9"/>
<circle cx="464.4" cy="955.0" r="5.9"/>
<circle cx="278.1" cy="1005.4" r="5.9"/>
<circle cx="303.2" cy="1119.5" r="5.9"/>
<circle cx="468.0" cy="1102.7" r="5.9"/>
<circle cx="443.8" cy="1118.7" r="5.9"/>
<circle cx="438.0" cy="1123.6" r="5.9"/>
<circle cx="664.5" cy="986.8" r="5.9"/>
<circle cx="644.4" cy="1011.9" r="5.9"/>
<circle cx="523.6" cy="1032.1" r="5.9"/>
<circle cx="537.1" cy="1025.5" r="5.9"/>
<circle cx="575.8" cy="1033.8" r="5.9"/>
<circle cx="622.0" cy="1056.4" r="5.9"/>
<circle cx="594.3" cy="1064.3" r="5.9"/>
<circle cx="676.7" cy="1068.7" r="5.9"/>
<circle cx="739.0" cy="1071.4" r="5.9"/>
<circle cx="506.6" cy="1085.7" r="5.9"/>
<circle cx="526.7" cy="1087.4" r="5.9"/>
<circle cx="571.2" cy="1093.5" r="5.9"/>
<circle cx="584.1" cy="1094.5" r="5.9"/>
<circle cx="650.0" cy="1094.0" r="5.9"/>
<circle cx="663.5" cy="1094.8" r="5.9"/>
<circle cx="693.2" cy="1090.7" r="5.9"/>
<circle cx="551.1" cy="1103.8" r="5.9"/>
<circle cx="551.9" cy="1111.3" r="5.9"/>
<circle cx="636.5" cy="1106.3" r="5.9"/>
<circle cx="700.8" cy="1110.9" r="5.9"/>
<circle cx="567.9" cy="1124.1" r="5.9"/>
<circle cx="598.9" cy="1125.8" r="5.9"/>
<circle cx="617.9" cy="1123.3" r="5.9"/>
<circle cx="631.0" cy="1124.5" r="5.9"/>
<circle cx="634.3" cy="1126.9" r="5.9"/>
<circle cx="786.5" cy="937.4" r="5.9"/>
<circle cx="784.8" cy="1022.3" r="5.9"/>
<circle cx="789.1" cy="1019.0" r="5.9"/>
<circle cx="771.6" cy="1073.0" r="5.9"/>
<circle cx="784.5" cy="1079.6" r="5.9"/>
<circle cx="760.1" cy="1101.0" r="5.9"/>
<circle cx="378.7" cy="1135.7" r="5.9"/>
<circle cx="447.6" cy="1134.9" r="5.9"/>
<circle cx="464.7" cy="1130.8" r="5.9"/>
<circle cx="494.9" cy="1150.5" r="5.9"/>
<circle cx="493.7" cy="1162.1" r="5.9"/>
<circle cx="482.2" cy="1169.5" r="5.9"/>
<circle cx="424.8" cy="1174.5" r="5.9"/>
<circle cx="428.1" cy="1175.3" r="5.9"/>
<circle cx="449.9" cy="1182.7" r="5.9"/>
<circle cx="460.3" cy="1189.3" r="5.9"/>
<circle cx="473.0" cy="1198.8" r="5.9"/>
<circle cx="461.1" cy="1206.6" r="5.9"/>
<circle cx="491.6" cy="1216.5" r="5.9"/>
<circle cx="487.5" cy="1229.7" r="5.9"/>
<circle cx="494.1" cy="1228.8" r="5.9"/>
<circle cx="463.6" cy="1231.8" r="5.9"/>
<circle cx="468.5" cy="1242.9" r="5.9"/>
<circle cx="493.7" cy="1247.0" r="5.9"/>
<circle cx="356.4" cy="1219.8" r="5.9"/>
<circle cx="353.6" cy="1240.7" r="5.9"/>
<circle cx="410.8" cy="1236.3" r="5.9"/>
<circle cx="409.2" cy="1251.1" r="5.9"/>
<circle cx="417.4" cy="1270.9" r="5.9"/>
<circle cx="430.1" cy="1272.2" r="5.9"/>
<circle cx="487.5" cy="1268.1" r="5.9"/>
<circle cx="497.4" cy="1268.1" r="5.9"/>
<circle cx="462.4" cy="1276.3" r="5.9"/>
<circle cx="476.8" cy="1274.2" r="5.9"/>
<circle cx="473.0" cy="1282.4" r="5.9"/>
<circle cx="456.2" cy="1287.9" r="5.9"/>
<circle cx="439.7" cy="1294.0" r="5.9"/>
<circle cx="444.3" cy="1291.8" r="5.9"/>
<circle cx="499.0" cy="1291.5" r="5.9"/>
<circle cx="395.2" cy="1301.4" r="5.9"/>
<circle cx="389.7" cy="1314.2" r="5.9"/>
<circle cx="435.1" cy="1312.1" r="5.9"/>
<circle cx="477.6" cy="1303.0" r="5.9"/>
<circle cx="478.4" cy="1313.7" r="5.9"/>
<circle cx="457.0" cy="1313.7" r="5.9"/>
<circle cx="462.4" cy="1318.7" r="5.9"/>
<circle cx="447.9" cy="1325.3" r="5.9"/>
<circle cx="428.5" cy="1331.9" r="5.9"/>
<circle cx="398.1" cy="1349.5" r="5.9"/>
<circle cx="373.7" cy="1356.6" r="5.9"/>
<circle cx="499.0" cy="1200.8" r="5.9"/>
<circle cx="636.0" cy="1138.2" r="5.9"/>
<circle cx="527.2" cy="1135.7" r="5.9"/>
<circle cx="565.1" cy="1138.2" r="5.9"/>
<circle cx="590.3" cy="1139.8" r="5.9"/>
<circle cx="548.6" cy="1146.4" r="5.9"/>
<circle cx="539.2" cy="1151.4" r="5.9"/>
<circle cx="567.3" cy="1150.5" r="5.9"/>
<circle cx="568.4" cy="1158.8" r="5.9"/>
<circle cx="603.0" cy="1154.7" r="5.9"/>
<circle cx="522.3" cy="1162.1" r="5.9"/>
<circle cx="572.5" cy="1167.9" r="5.9"/>
<circle cx="563.0" cy="1173.1" r="5.9"/>
<circle cx="583.2" cy="1170.8" r="5.9"/>
<circle cx="602.2" cy="1171.5" r="5.9"/>
<circle cx="606.8" cy="1181.0" r="5.9"/>
<circle cx="621.2" cy="1169.8" r="5.9"/>
<circle cx="640.1" cy="1156.6" r="5.9"/>
<circle cx="650.8" cy="1152.2" r="5.9"/>
<circle cx="654.9" cy="1160.4" r="5.9"/>
<circle cx="658.2" cy="1168.2" r="5.9"/>
<circle cx="697.8" cy="1133.2" r="5.9"/>
<circle cx="508.2" cy="1173.6" r="5.9"/>
<circle cx="511.2" cy="1185.7" r="5.9"/>
<circle cx="563.0" cy="1189.6" r="5.9"/>
<circle cx="551.1" cy="1195.1" r="5.9"/>
<circle cx="548.6" cy="1200.0" r="5.9"/>
<circle cx="578.3" cy="1199.2" r="5.9"/>
<circle cx="585.7" cy="1201.2" r="5.9"/>
<circle cx="565.6" cy="1206.1" r="5.9"/>
<circle cx="548.1" cy="1214.0" r="5.9"/>
<circle cx="579.1" cy="1216.5" r="5.9"/>
<circle cx="589.0" cy="1217.3" r="5.9"/>
<circle cx="597.3" cy="1217.0" r="5.9"/>
<circle cx="559.3" cy="1223.9" r="5.9"/>
<circle cx="566.8" cy="1225.5" r="5.9"/>
<circle cx="569.2" cy="1230.5" r="5.9"/>
<circle cx="565.1" cy="1235.4" r="5.9"/>
<circle cx="553.6" cy="1240.4" r="5.9"/>
<circle cx="549.5" cy="1247.3" r="5.9"/>
<circle cx="627.7" cy="1189.6" r="5.9"/>
<circle cx="636.5" cy="1192.3" r="5.9"/>
<circle cx="526.0" cy="1244.0" r="5.9"/>
<circle cx="544.5" cy="1264.8" r="5.9"/>
<circle cx="511.9" cy="1274.7" r="5.9"/>
<circle cx="504.9" cy="1285.7" r="5.9"/>
<circle cx="814.4" cy="304.4" r="5.9"/>
<circle cx="821.5" cy="304.4" r="5.9"/>
<circle cx="818.9" cy="313.3" r="5.9"/>
<circle cx="823.3" cy="326.6" r="5.9"/>
<circle cx="811.8" cy="331.1" r="5.9"/>
<circle cx="839.3" cy="310.7" r="5.9"/>
<circle cx="836.6" cy="319.5" r="5.9"/>
<circle cx="845.5" cy="307.1" r="5.9"/>
<circle cx="827.8" cy="301.8" r="5.9"/>
<circle cx="724.6" cy="195.0" r="5.9"/>
<circle cx="755.3" cy="199.4" r="5.9"/>
<circle cx="756.2" cy="216.3" r="5.9"/>
<circle cx="697.1" cy="212.8" r="5.9"/>
<circle cx="691.8" cy="216.3" r="5.9"/>
<circle cx="693.6" cy="226.1" r="5.9"/>
<circle cx="705.1" cy="228.8" r="5.9"/>
<circle cx="706.9" cy="238.5" r="5.9"/>
<circle cx="695.3" cy="240.3" r="5.9"/>
<circle cx="691.8" cy="244.7" r="5.9"/>
<circle cx="718.4" cy="219.9" r="5.9"/>
<circle cx="728.2" cy="227.0" r="5.9"/>
<circle cx="738.0" cy="221.6" r="5.9"/>
<circle cx="744.2" cy="228.8" r="5.9"/>
<circle cx="722.9" cy="236.7" r="5.9"/>
<circle cx="726.4" cy="246.5" r="5.9"/>
<circle cx="731.7" cy="247.4" r="5.9"/>
<circle cx="740.6" cy="251.8" r="5.9"/>
<circle cx="741.5" cy="257.2" r="5.9"/>
<circle cx="756.2" cy="239.4" r="5.9"/>
<circle cx="766.4" cy="253.6" r="5.9"/>
<circle cx="777.0" cy="251.0" r="5.9"/>
<circle cx="785.0" cy="245.6" r="5.9"/>
<circle cx="782.4" cy="228.8" r="5.9"/>
<circle cx="787.7" cy="224.3" r="5.9"/>
<circle cx="793.9" cy="221.6" r="5.9"/>
<circle cx="799.3" cy="231.4" r="5.9"/>
<circle cx="793.0" cy="236.7" r="5.9"/>
<circle cx="803.7" cy="248.3" r="5.9"/>
<circle cx="801.9" cy="259.0" r="5.9"/>
<circle cx="803.7" cy="264.3" r="5.9"/>
<circle cx="692.7" cy="253.6" r="5.9"/>
<circle cx="698.9" cy="260.7" r="5.9"/>
<circle cx="703.3" cy="256.3" r="5.9"/>
<circle cx="713.1" cy="258.1" r="5.9"/>
<circle cx="730.0" cy="263.4" r="5.9"/>
<circle cx="699.8" cy="273.2" r="5.9"/>
<circle cx="718.4" cy="278.5" r="5.9"/>
<circle cx="739.7" cy="273.2" r="5.9"/>
<circle cx="748.6" cy="266.9" r="5.9"/>
<circle cx="755.7" cy="274.9" r="5.9"/>
<circle cx="762.8" cy="269.6" r="5.9"/>
<circle cx="787.7" cy="273.2" r="5.9"/>
<circle cx="801.0" cy="281.2" r="5.9"/>
<circle cx="695.3" cy="289.2" r="5.9"/>
<circle cx="698.9" cy="300.7" r="5.9"/>
<circle cx="707.8" cy="290.9" r="5.9"/>
<circle cx="714.0" cy="294.5" r="5.9"/>
<circle cx="707.8" cy="301.6" r="5.9"/>
<circle cx="692.7" cy="294.5" r="5.9"/>
<circle cx="738.9" cy="295.4" r="5.9"/>
<circle cx="753.1" cy="293.6" r="5.9"/>
<circle cx="745.1" cy="301.6" r="5.9"/>
<circle cx="743.3" cy="310.5" r="5.9"/>
<circle cx="736.2" cy="319.4" r="5.9"/>
<circle cx="727.3" cy="317.6" r="5.9"/>
<circle cx="717.5" cy="308.7" r="5.9"/>
<circle cx="721.1" cy="328.2" r="5.9"/>
<circle cx="741.5" cy="323.8" r="5.9"/>
<circle cx="764.6" cy="301.6" r="5.9"/>
<circle cx="765.5" cy="308.7" r="5.9"/>
<circle cx="757.5" cy="319.4" r="5.9"/>
<circle cx="766.4" cy="326.5" r="5.9"/>
<circle cx="774.4" cy="319.4" r="5.9"/>
<circle cx="778.8" cy="332.7" r="5.9"/>
<circle cx="783.3" cy="338.9" r="5.9"/>
<circle cx="774.4" cy="288.3" r="5.9"/>
<circle cx="781.5" cy="288.3" r="5.9"/>
<circle cx="778.8" cy="301.6" r="5.9"/>
<circle cx="793.0" cy="292.7" r="5.9"/>
<circle cx="793.0" cy="309.6" r="5.9"/>
<circle cx="801.0" cy="322.0" r="5.9"/>
<circle cx="805.5" cy="310.5" r="5.9"/>
<circle cx="804.6" cy="335.3" r="5.9"/>
<circle cx="692.7" cy="317.6" r="5.9"/>
<circle cx="706.9" cy="335.3" r="5.9"/>
<circle cx="722.9" cy="338.9" r="5.9"/>
<circle cx="732.6" cy="340.7" r="5.9"/>
<circle cx="745.1" cy="335.3" r="5.9"/>
<circle cx="690.0" cy="325.6" r="5.9"/>
<circle cx="809.0" cy="323.8" r="5.9"/>
<circle cx="810.0" cy="200.8" r="5.9"/>
<circle cx="826.9" cy="210.7" r="5.9"/>
<circle cx="852.9" cy="212.3" r="5.9"/>
<circle cx="851.2" cy="218.9" r="5.9"/>
<circle cx="890.8" cy="209.8" r="5.9"/>
<circle cx="892.8" cy="226.3" r="5.9"/>
<circle cx="922.9" cy="231.3" r="5.9"/>
<circle cx="929.5" cy="228.0" r="5.9"/>
<circle cx="826.9" cy="237.0" r="5.9"/>
<circle cx="856.2" cy="232.1" r="5.9"/>
<circle cx="865.2" cy="235.4" r="5.9"/>
<circle cx="860.3" cy="239.5" r="5.9"/>
<circle cx="846.3" cy="245.3" r="5.9"/>
<circle cx="839.7" cy="248.6" r="5.9"/>
<circle cx="879.2" cy="241.2" r="5.9"/>
<circle cx="878.4" cy="249.4" r="5.9"/>
<circle cx="889.9" cy="247.7" r="5.9"/>
<circle cx="898.6" cy="256.0" r="5.9"/>
<circle cx="908.9" cy="257.6" r="5.9"/>
<circle cx="889.9" cy="261.8" r="5.9"/>
<circle cx="812.5" cy="250.2" r="5.9"/>
<circle cx="820.7" cy="256.0" r="5.9"/>
<circle cx="831.4" cy="244.5" r="5.9"/>
<circle cx="833.9" cy="256.8" r="5.9"/>
<circle cx="858.6" cy="257.6" r="5.9"/>
<circle cx="867.7" cy="256.8" r="5.9"/>
<circle cx="818.2" cy="268.4" r="5.9"/>
<circle cx="829.0" cy="270.0" r="5.9"/>
<circle cx="842.1" cy="269.2" r="5.9"/>
<circle cx="859.5" cy="267.5" r="5.9"/>
<circle cx="861.9" cy="275.8" r="5.9"/>
<circle cx="879.2" cy="273.3" r="5.9"/>
<circle cx="885.0" cy="273.3" r="5.9"/>
<circle cx="882.5" cy="281.5" r="5.9"/>
<circle cx="874.3" cy="279.9" r="5.9"/>
<circle cx="867.7" cy="284.0" r="5.9"/>
<circle cx="866.0" cy="292.3" r="5.9"/>
<circle cx="856.2" cy="277.4" r="5.9"/>
<circle cx="848.7" cy="282.4" r="5.9"/>
<circle cx="834.7" cy="277.4" r="5.9"/>
<circle cx="822.4" cy="281.5" r="5.9"/>
<circle cx="814.1" cy="284.0" r="5.9"/>
<circle cx="818.2" cy="296.4" r="5.9"/>
<circle cx="830.6" cy="289.8" r="5.9"/>
<circle cx="841.3" cy="293.9" r="5.9"/>
<circle cx="849.6" cy="293.9" r="5.9"/>
<circle cx="859.5" cy="298.0" r="5.9"/>
<circle cx="810.8" cy="292.3" r="5.9"/>
<circle cx="700.7" cy="345.8" r="5.9"/>
<circle cx="710.6" cy="348.3" r="5.9"/>
<circle cx="718.8" cy="346.6" r="5.9"/>
<circle cx="728.7" cy="348.3" r="5.9"/>
<circle cx="741.9" cy="345.8" r="5.9"/>
<circle cx="757.6" cy="350.8" r="5.9"/>
<circle cx="758.4" cy="345.8" r="5.9"/>
<circle cx="772.4" cy="350.8" r="5.9"/>
<circle cx="784.8" cy="349.1" r="5.9"/>
<circle cx="793.0" cy="348.3" r="5.9"/>
<circle cx="788.9" cy="358.2" r="5.9"/>
<circle cx="797.1" cy="352.4" r="5.9"/>
<circle cx="718.0" cy="357.4" r="5.9"/>
<circle cx="738.6" cy="358.2" r="5.9"/>
<circle cx="744.4" cy="362.3" r="5.9"/>
<circle cx="736.2" cy="371.4" r="5.9"/>
<circle cx="740.3" cy="368.1" r="5.9"/>
<circle cx="759.2" cy="365.6" r="5.9"/>
<circle cx="713.9" cy="368.9" r="5.9"/>
<circle cx="719.7" cy="373.0" r="5.9"/>
<circle cx="718.0" cy="378.0" r="5.9"/>
<circle cx="693.3" cy="369.7" r="5.9"/>
<circle cx="696.6" cy="376.3" r="5.9"/>
<circle cx="727.9" cy="383.7" r="5.9"/>
<circle cx="734.5" cy="384.6" r="5.9"/>
<circle cx="727.1" cy="391.2" r="5.9"/>
<circle cx="733.7" cy="394.5" r="5.9"/>
<circle cx="732.9" cy="399.4" r="5.9"/>
<circle cx="737.8" cy="391.2" r="5.9"/>
<circle cx="747.7" cy="379.6" r="5.9"/>
<circle cx="758.4" cy="378.0" r="5.9"/>
<circle cx="747.7" cy="387.9" r="5.9"/>
<circle cx="772.4" cy="371.4" r="5.9"/>
<circle cx="773.2" cy="376.3" r="5.9"/>
<circle cx="691.6" cy="387.9" r="5.9"/>
<circle cx="693.3" cy="392.8" r="5.9"/>
<circle cx="694.9" cy="401.0" r="5.9"/>
<circle cx="702.4" cy="402.7" r="5.9"/>
<circle cx="712.3" cy="401.0" r="5.9"/>
<circle cx="706.5" cy="409.3" r="5.9"/>
<circle cx="715.5" cy="412.6" r="5.9"/>
<circle cx="694.9" cy="410.9" r="5.9"/>
<circle cx="691.6" cy="419.2" r="5.9"/>
<circle cx="694.9" cy="427.4" r="5.9"/>
<circle cx="705.7" cy="428.2" r="5.9"/>
<circle cx="716.4" cy="424.1" r="5.9"/>
<circle cx="727.1" cy="414.2" r="5.9"/>
<circle cx="692.5" cy="438.1" r="5.9"/>
<circle cx="690.8" cy="443.9" r="5.9"/>
<circle cx="786.8" cy="283.0" r="5.9"/>
<circle cx="803.4" cy="291.1" r="5.9"/>
<circle cx="786.7" cy="297.5" r="5.9"/>
<circle cx="795.8" cy="300.2" r="5.9"/>
<circle cx="805.6" cy="298.1" r="5.9"/>
<circle cx="835.7" cy="300.6" r="5.9"/>
<circle cx="832.4" cy="308.4" r="5.9"/>
<circle cx="786.5" cy="315.0" r="5.9"/>
<circle cx="795.7" cy="317.0" r="5.9"/>
<circle cx="794.3" cy="324.5" r="5.9"/>
<circle cx="830.1" cy="322.7" r="5.9"/>
<circle cx="771.4" cy="295.4" r="5.9"/>
<circle cx="729.5" cy="304.7" r="5.9"/>
<circle cx="735.1" cy="311.4" r="5.9"/>
<circle cx="752.3" cy="314.6" r="5.9"/>
<circle cx="711.6" cy="319.1" r="5.9"/>
<circle cx="720.4" cy="320.8" r="5.9"/>
<circle cx="714.0" cy="330.9" r="5.9"/>
<circle cx="732.8" cy="327.5" r="5.9"/>
<circle cx="751.7" cy="331.0" r="5.9"/>
<circle cx="759.2" cy="336.6" r="5.9"/>
<circle cx="767.7" cy="336.2" r="5.9"/>
<circle cx="797.1" cy="337.7" r="5.9"/>
<circle cx="747.9" cy="353.8" r="5.9"/>
<circle cx="766.8" cy="355.8" r="5.9"/>
<circle cx="779.1" cy="354.1" r="5.9"/>
<circle cx="723.8" cy="362.2" r="5.9"/>
<circle cx="751.6" cy="360.2" r="5.9"/>
<circle cx="772.8" cy="362.3" r="5.9"/>
<circle cx="783.0" cy="362.8" r="5.9"/>
<circle cx="727.9" cy="371.7" r="5.9"/>
<circle cx="749.6" cy="371.6" r="5.9"/>
<circle cx="758.8" cy="385.1" r="5.9"/>
<circle cx="683.9" cy="356.3" r="5.9"/>
<circle cx="695.9" cy="357.1" r="5.9"/>
<circle cx="689.2" cy="363.7" r="5.9"/>
<circle cx="675.8" cy="371.4" r="5.9"/>
<circle cx="685.3" cy="373.0" r="5.9"/>
<circle cx="702.5" cy="371.4" r="5.9"/>
<circle cx="706.8" cy="380.1" r="5.9"/>
<circle cx="702.8" cy="388.0" r="5.9"/>
<circle cx="711.9" cy="388.7" r="5.9"/>
<circle cx="679.3" cy="398.0" r="5.9"/>
<circle cx="684.0" cy="405.9" r="5.9"/>
<circle cx="724.0" cy="406.0" r="5.9"/>
<circle cx="684.2" cy="422.8" r="5.9"/>
</g>
<ellipse cx="799.3" cy="370.4" rx="382.6" ry="235.1" transform="rotate(5.03 799.3 370.4)" fill="none" stroke="#467b1d" stroke-width="3.6"/>
<ellipse cx="756.2" cy="1319.4" rx="487.3" ry="227.7" transform="rotate(10.4 756.2 1319.4)" fill="none" stroke="#467b1d" stroke-width="3.6"/>
<line x1="344" y1="745" x2="1143" y2="62" stroke="#000" stroke-width="3.2" stroke-dasharray="9 6"/>
<line x1="127" y1="1574" x2="1000" y2="930" stroke="#000" stroke-width="3.2" stroke-dasharray="9 6"/>
<text transform="translate(357.5,713.5) rotate(-40.3)" class="wtp">WTP=37125.2</text>
<text transform="translate(141,1544) rotate(-35.5)" class="wtp">WTP=37125.2</text>
<line x1="136.7" y1="182.6" x2="1442.6" y2="182.6" stroke="#3a3a3a" stroke-width="2" stroke-dasharray="8.2 13.9"/>
<line x1="1002.5" y1="70.2" x2="1002.5" y2="720.5" stroke="#3a3a3a" stroke-width="2" stroke-dasharray="8.1 14.15"/>
<line x1="136.7" y1="1471.9" x2="1442.6" y2="1471.9" stroke="#3a3a3a" stroke-width="2" stroke-dasharray="8.2 13.9"/>
<line x1="266.7" y1="938.8" x2="266.7" y2="1587.4" stroke="#3a3a3a" stroke-width="2" stroke-dasharray="8.1 14.15"/>
</svg></body></html>
